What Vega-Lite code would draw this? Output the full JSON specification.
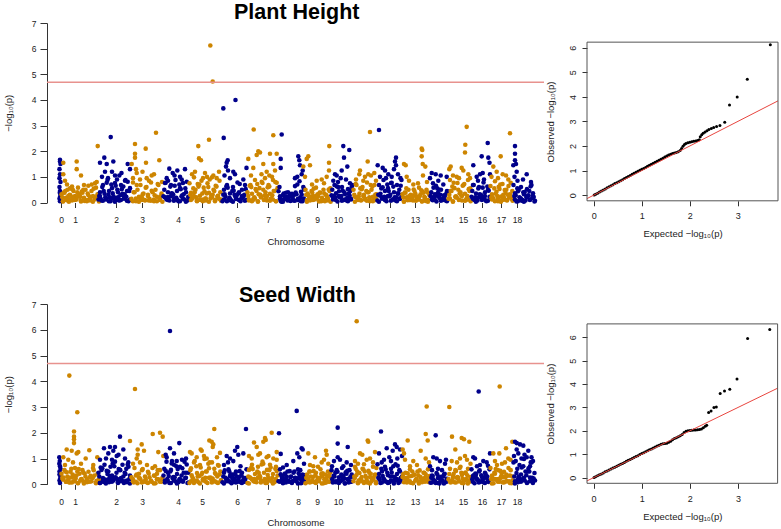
{
  "$schema": "https://vega.github.io/schema/vega-lite/v6.json",
  "padding": {"left": 3, "top": 2, "right": 2, "bottom": 0},
  "background": "white",
  "config": {
    "font": "Liberation Sans",
    "view": {"stroke": null},
    "axis": {"grid": false, "labelColor": "#222", "titleColor": "#222", "tickColor": "#333", "domainColor": "#333", "titleFontWeight": "normal", "labelOverlap": false, "labelFlush": false, "labelBound": false}
  },
  "datasets": {
    "ph": [
      {"c":0,"x":12.5,"y":0.15},{"c":0,"x":13,"y":0.05},{"c":0,"x":13.5,"y":0.3},{"c":0,"x":13,"y":0.45},{"c":0,"x":12.5,"y":0.6},{"c":0,"x":13.5,"y":0.8},{"c":0,"x":12.5,"y":0.95},{"c":0,"x":13,"y":1.1},{"c":0,"x":12.5,"y":1.3},{"c":0,"x":13.5,"y":1.5},{"c":0,"x":13,"y":1.6},{"c":0,"x":13,"y":1.67},{"c":0,"x":13.2,"y":0.22},{"c":0,"x":12.8,"y":0.38},
      {"c":1,"x":14.5,"y":0.32},{"c":1,"x":16,"y":0.04},{"c":1,"x":17.5,"y":0.38},{"c":1,"x":19,"y":0.18},{"c":1,"x":20.5,"y":0.5},{"c":1,"x":22,"y":0.1},{"c":1,"x":23.5,"y":0.28},{"c":1,"x":25,"y":0.08},{"c":1,"x":26.5,"y":0.45},{"c":1,"x":28,"y":0.25},{"c":1,"x":29.5,"y":0.12},{"c":1,"x":31,"y":0.58},{"c":1,"x":32.5,"y":0.32},{"c":1,"x":34,"y":0.04},{"c":1,"x":35.5,"y":0.38},{"c":1,"x":37,"y":0.18},{"c":1,"x":38.5,"y":0.5},{"c":1,"x":40,"y":0.1},{"c":1,"x":41.5,"y":0.28},{"c":1,"x":43,"y":0.08},{"c":1,"x":44.5,"y":0.45},{"c":1,"x":46,"y":0.25},{"c":1,"x":47.5,"y":0.12},{"c":1,"x":49,"y":0.58},{"c":1,"x":50.5,"y":0.32},{"c":1,"x":52,"y":0.04},
      {"c":1,"x":15.3,"y":0.2},{"c":1,"x":18.3,"y":0.45},{"c":1,"x":21.3,"y":0.25},{"c":1,"x":24.3,"y":0.55},{"c":1,"x":27.3,"y":0.15},{"c":1,"x":30.3,"y":0.4},{"c":1,"x":33.3,"y":0.22},{"c":1,"x":36.3,"y":0.5},
      {"c":1,"x":16.7,"y":0.39},{"c":1,"x":19.7,"y":0.09},{"c":1,"x":22.7,"y":0.3},{"c":1,"x":25.7,"y":0.51},{"c":1,"x":28.7,"y":0.13},{"c":1,"x":31.7,"y":0.24},{"c":1,"x":34.7,"y":0.43},{"c":1,"x":37.7,"y":0.06},{"c":1,"x":40.7,"y":0.35},{"c":1,"x":43.7,"y":0.21},{"c":1,"x":46.7,"y":0.54},{"c":1,"x":49.7,"y":0.18},
      {"c":1,"x":15.9,"y":0.05},{"c":1,"x":18.9,"y":0.15},{"c":1,"x":21.9,"y":0.03},{"c":1,"x":24.9,"y":0.2},{"c":1,"x":27.9,"y":0.1},{"c":1,"x":30.9,"y":0.25},{"c":1,"x":33.9,"y":0.07},{"c":1,"x":36.9,"y":0.12},{"c":1,"x":39.9,"y":0.05},{"c":1,"x":42.9,"y":0.15},{"c":1,"x":45.9,"y":0.03},{"c":1,"x":48.9,"y":0.2},{"c":1,"x":51.9,"y":0.1},
      {"c":1,"x":16.3,"y":1.55},{"c":1,"x":16.3,"y":1.1},{"c":1,"x":29.7,"y":1.6},{"c":1,"x":29.7,"y":1.3},{"c":1,"x":34,"y":1.05},{"c":1,"x":48,"y":0.75},{"c":1,"x":44.7,"y":0.7},{"c":1,"x":41.3,"y":0.65},{"c":1,"x":50.7,"y":2.2},{"c":1,"x":49.7,"y":0.8},{"c":1,"x":20,"y":0.7},{"c":1,"x":25,"y":0.62},{"c":1,"x":37,"y":0.68},{"c":1,"x":18,"y":0.85},{"c":1,"x":23,"y":0.55},
      {"c":2,"x":51.5,"y":0.12},{"c":2,"x":53,"y":0.4},{"c":2,"x":54.5,"y":0.08},{"c":2,"x":56,"y":0.68},{"c":2,"x":57.5,"y":0.34},{"c":2,"x":59,"y":0.15},{"c":2,"x":60.5,"y":0.88},{"c":2,"x":62,"y":0.45},{"c":2,"x":63.5,"y":0.05},{"c":2,"x":65,"y":0.56},{"c":2,"x":66.5,"y":0.24},{"c":2,"x":68,"y":0.76},{"c":2,"x":69.5,"y":0.12},{"c":2,"x":71,"y":0.4},{"c":2,"x":72.5,"y":0.08},{"c":2,"x":74,"y":0.68},{"c":2,"x":75.5,"y":0.34},{"c":2,"x":77,"y":0.15},{"c":2,"x":78.5,"y":0.88},{"c":2,"x":80,"y":0.45},{"c":2,"x":81.5,"y":0.05},{"c":2,"x":83,"y":0.56},
      {"c":2,"x":52.3,"y":0.25},{"c":2,"x":55.3,"y":0.6},{"c":2,"x":58.3,"y":0.2},{"c":2,"x":61.3,"y":0.3},{"c":2,"x":64.3,"y":0.7},{"c":2,"x":67.3,"y":0.18},{"c":2,"x":70.3,"y":0.5},{"c":2,"x":73.3,"y":0.28},{"c":2,"x":76.3,"y":0.62},{"c":2,"x":79.3,"y":0.22},{"c":2,"x":82.3,"y":0.45},
      {"c":2,"x":53.7,"y":0.14},{"c":2,"x":56.7,"y":0.45},{"c":2,"x":59.7,"y":0.77},{"c":2,"x":62.7,"y":0.2},{"c":2,"x":65.7,"y":0.36},{"c":2,"x":68.7,"y":0.65},{"c":2,"x":71.7,"y":0.09},{"c":2,"x":74.7,"y":0.52},{"c":2,"x":77.7,"y":0.32},{"c":2,"x":80.7,"y":0.81},
      {"c":2,"x":52.9,"y":0.25},{"c":2,"x":55.9,"y":0.07},{"c":2,"x":58.9,"y":0.12},{"c":2,"x":61.9,"y":0.05},{"c":2,"x":64.9,"y":0.15},{"c":2,"x":67.9,"y":0.03},{"c":2,"x":70.9,"y":0.2},{"c":2,"x":73.9,"y":0.1},{"c":2,"x":76.9,"y":0.25},{"c":2,"x":79.9,"y":0.07},{"c":2,"x":82.9,"y":0.12},
      {"c":2,"x":63.7,"y":2.55},{"c":2,"x":57.3,"y":1.75},{"c":2,"x":66.3,"y":1.6},{"c":2,"x":53,"y":1.55},{"c":2,"x":59.7,"y":1.5},{"c":2,"x":58,"y":1.2},{"c":2,"x":68,"y":1.05},{"c":2,"x":72.3,"y":1.05},{"c":2,"x":80.7,"y":1.5},{"c":2,"x":83,"y":1.3},{"c":2,"x":78,"y":0.85},{"c":2,"x":61,"y":0.95},{"c":2,"x":70,"y":0.9},{"c":2,"x":55,"y":1.0},{"c":2,"x":74.5,"y":1.15},{"c":2,"x":65,"y":1.2},
      {"c":3,"x":84.5,"y":0.14},{"c":3,"x":86,"y":0.78},{"c":3,"x":87.5,"y":0.4},{"c":3,"x":89,"y":0.05},{"c":3,"x":90.5,"y":0.5},{"c":3,"x":92,"y":0.22},{"c":3,"x":93.5,"y":0.68},{"c":3,"x":95,"y":0.1},{"c":3,"x":96.5,"y":0.35},{"c":3,"x":98,"y":0.08},{"c":3,"x":99.5,"y":0.6},{"c":3,"x":101,"y":0.3},{"c":3,"x":102.5,"y":0.14},{"c":3,"x":104,"y":0.78},{"c":3,"x":105.5,"y":0.4},{"c":3,"x":107,"y":0.05},{"c":3,"x":108.5,"y":0.5},{"c":3,"x":110,"y":0.22},{"c":3,"x":111.5,"y":0.68},{"c":3,"x":113,"y":0.1},{"c":3,"x":114.5,"y":0.35},
      {"c":3,"x":86.7,"y":0.4},{"c":3,"x":89.7,"y":0.68},{"c":3,"x":92.7,"y":0.18},{"c":3,"x":95.7,"y":0.32},{"c":3,"x":98.7,"y":0.58},{"c":3,"x":101.7,"y":0.08},{"c":3,"x":104.7,"y":0.46},{"c":3,"x":107.7,"y":0.28},{"c":3,"x":110.7,"y":0.72},{"c":3,"x":113.7,"y":0.24},
      {"c":3,"x":85.9,"y":0.05},{"c":3,"x":88.9,"y":0.15},{"c":3,"x":91.9,"y":0.03},{"c":3,"x":94.9,"y":0.2},{"c":3,"x":97.9,"y":0.1},{"c":3,"x":100.9,"y":0.25},{"c":3,"x":103.9,"y":0.07},{"c":3,"x":106.9,"y":0.12},{"c":3,"x":109.9,"y":0.05},{"c":3,"x":112.9,"y":0.15},{"c":3,"x":115.4,"y":0.03},
      {"c":3,"x":88,"y":2.28},{"c":3,"x":88,"y":1.9},{"c":3,"x":88,"y":1.75},{"c":3,"x":84.7,"y":1.5},{"c":3,"x":98.7,"y":2.1},{"c":3,"x":109,"y":2.72},{"c":3,"x":112.3,"y":1.65},{"c":3,"x":99,"y":1.55},{"c":3,"x":89,"y":1.3},{"c":3,"x":89.7,"y":1.15},{"c":3,"x":107,"y":1.1},{"c":3,"x":104.7,"y":1.05},{"c":3,"x":99.7,"y":0.95},{"c":3,"x":93,"y":0.9},{"c":3,"x":86,"y":0.95},{"c":3,"x":95.5,"y":1.2},{"c":3,"x":102,"y":0.85},{"c":3,"x":115,"y":0.8},
      {"c":4,"x":116.5,"y":0.24},{"c":4,"x":118,"y":0.76},{"c":4,"x":119.5,"y":0.12},{"c":4,"x":121,"y":0.4},{"c":4,"x":122.5,"y":0.08},{"c":4,"x":124,"y":0.68},{"c":4,"x":125.5,"y":0.34},{"c":4,"x":127,"y":0.15},{"c":4,"x":128.5,"y":0.88},{"c":4,"x":130,"y":0.45},{"c":4,"x":131.5,"y":0.05},{"c":4,"x":133,"y":0.56},{"c":4,"x":134.5,"y":0.24},{"c":4,"x":136,"y":0.76},{"c":4,"x":137.5,"y":0.12},{"c":4,"x":139,"y":0.4},{"c":4,"x":140.5,"y":0.08},
      {"c":4,"x":117.3,"y":0.5},{"c":4,"x":120.3,"y":0.2},{"c":4,"x":123.3,"y":0.62},{"c":4,"x":126.3,"y":0.3},{"c":4,"x":129.3,"y":0.18},{"c":4,"x":132.3,"y":0.7},{"c":4,"x":135.3,"y":0.28},{"c":4,"x":138.3,"y":0.55},{"c":4,"x":141.3,"y":0.22},
      {"c":4,"x":118.7,"y":0.77},{"c":4,"x":121.7,"y":0.2},{"c":4,"x":124.7,"y":0.36},{"c":4,"x":127.7,"y":0.65},{"c":4,"x":130.7,"y":0.09},{"c":4,"x":133.7,"y":0.52},{"c":4,"x":136.7,"y":0.32},{"c":4,"x":139.7,"y":0.81},
      {"c":4,"x":117.9,"y":0.2},{"c":4,"x":120.9,"y":0.1},{"c":4,"x":123.9,"y":0.25},{"c":4,"x":126.9,"y":0.07},{"c":4,"x":129.9,"y":0.12},{"c":4,"x":132.9,"y":0.05},{"c":4,"x":135.9,"y":0.15},{"c":4,"x":138.9,"y":0.03},{"c":4,"x":141.6,"y":0.2},
      {"c":4,"x":122.3,"y":1.32},{"c":4,"x":130.3,"y":1.25},{"c":4,"x":138,"y":1.3},{"c":4,"x":125.7,"y":1.15},{"c":4,"x":133,"y":1.0},{"c":4,"x":119.7,"y":0.95},{"c":4,"x":134.7,"y":0.9},{"c":4,"x":127.5,"y":1.05},{"c":4,"x":121,"y":0.85},
      {"c":5,"x":142.5,"y":0.75},{"c":5,"x":144,"y":0.38},{"c":5,"x":145.5,"y":0.16},{"c":5,"x":147,"y":0.98},{"c":5,"x":148.5,"y":0.5},{"c":5,"x":150,"y":0.05},{"c":5,"x":151.5,"y":0.62},{"c":5,"x":153,"y":0.26},{"c":5,"x":154.5,"y":0.85},{"c":5,"x":156,"y":0.12},{"c":5,"x":157.5,"y":0.44},{"c":5,"x":159,"y":0.08},{"c":5,"x":160.5,"y":0.75},{"c":5,"x":162,"y":0.38},{"c":5,"x":163.5,"y":0.16},{"c":5,"x":165,"y":0.98},{"c":5,"x":166.5,"y":0.5},{"c":5,"x":168,"y":0.05},{"c":5,"x":169.5,"y":0.62},{"c":5,"x":171,"y":0.26},{"c":5,"x":172.5,"y":0.85},{"c":5,"x":174,"y":0.12},
      {"c":5,"x":143.3,"y":0.3},{"c":5,"x":146.3,"y":0.55},{"c":5,"x":149.3,"y":0.2},{"c":5,"x":152.3,"y":0.7},{"c":5,"x":155.3,"y":0.35},{"c":5,"x":158.3,"y":0.15},{"c":5,"x":161.3,"y":0.6},{"c":5,"x":164.3,"y":0.28},{"c":5,"x":167.3,"y":0.45},{"c":5,"x":170.3,"y":0.22},{"c":5,"x":173.3,"y":0.4},
      {"c":5,"x":144.7,"y":0.22},{"c":5,"x":147.7,"y":0.4},{"c":5,"x":150.7,"y":0.72},{"c":5,"x":153.7,"y":0.1},{"c":5,"x":156.7,"y":0.58},{"c":5,"x":159.7,"y":0.35},{"c":5,"x":162.7,"y":0.9},{"c":5,"x":165.7,"y":0.3},{"c":5,"x":168.7,"y":0.65},{"c":5,"x":171.7,"y":0.15},
      {"c":5,"x":143.9,"y":0.1},{"c":5,"x":146.9,"y":0.25},{"c":5,"x":149.9,"y":0.07},{"c":5,"x":152.9,"y":0.12},{"c":5,"x":155.9,"y":0.05},{"c":5,"x":158.9,"y":0.15},{"c":5,"x":161.9,"y":0.03},{"c":5,"x":164.9,"y":0.2},{"c":5,"x":167.9,"y":0.1},{"c":5,"x":170.9,"y":0.25},{"c":5,"x":173.9,"y":0.07},
      {"c":5,"x":151.3,"y":2.2},{"c":5,"x":152,"y":1.72},{"c":5,"x":154,"y":1.65},{"c":5,"x":162,"y":2.45},{"c":5,"x":163.3,"y":6.12},{"c":5,"x":165.7,"y":4.72},{"c":5,"x":148,"y":1.2},{"c":5,"x":158,"y":1.15},{"c":5,"x":166.3,"y":1.05},{"c":5,"x":169.7,"y":0.95},{"c":5,"x":172,"y":1.2},{"c":5,"x":145,"y":1.1},{"c":5,"x":160,"y":1.0},{"c":5,"x":156,"y":0.95},
      {"c":6,"x":175.5,"y":0.05},{"c":6,"x":177,"y":0.5},{"c":6,"x":178.5,"y":0.22},{"c":6,"x":180,"y":0.68},{"c":6,"x":181.5,"y":0.1},{"c":6,"x":183,"y":0.35},{"c":6,"x":184.5,"y":0.08},{"c":6,"x":186,"y":0.6},{"c":6,"x":187.5,"y":0.3},{"c":6,"x":189,"y":0.14},{"c":6,"x":190.5,"y":0.78},{"c":6,"x":192,"y":0.4},{"c":6,"x":193.5,"y":0.05},{"c":6,"x":195,"y":0.5},{"c":6,"x":196.5,"y":0.22},{"c":6,"x":198,"y":0.68},{"c":6,"x":199.5,"y":0.1},
      {"c":6,"x":176.3,"y":0.3},{"c":6,"x":179.3,"y":0.62},{"c":6,"x":182.3,"y":0.18},{"c":6,"x":185.3,"y":0.45},{"c":6,"x":188.3,"y":0.25},{"c":6,"x":191.3,"y":0.35},{"c":6,"x":194.3,"y":0.15},{"c":6,"x":197.3,"y":0.3},
      {"c":6,"x":177.7,"y":0.32},{"c":6,"x":180.7,"y":0.58},{"c":6,"x":183.7,"y":0.08},{"c":6,"x":186.7,"y":0.46},{"c":6,"x":189.7,"y":0.28},{"c":6,"x":192.7,"y":0.72},{"c":6,"x":195.7,"y":0.24},{"c":6,"x":198.7,"y":0.52},
      {"c":6,"x":176.9,"y":0.12},{"c":6,"x":179.9,"y":0.05},{"c":6,"x":182.9,"y":0.15},{"c":6,"x":185.9,"y":0.03},{"c":6,"x":188.9,"y":0.2},{"c":6,"x":191.9,"y":0.1},{"c":6,"x":194.9,"y":0.25},{"c":6,"x":197.9,"y":0.07},
      {"c":6,"x":176.3,"y":3.67},{"c":6,"x":176.7,"y":2.52},{"c":6,"x":188.5,"y":4.0},{"c":6,"x":180.7,"y":1.65},{"c":6,"x":179.7,"y":1.55},{"c":6,"x":179,"y":1.4},{"c":6,"x":186.3,"y":1.2},{"c":6,"x":188,"y":1.1},{"c":6,"x":196.3,"y":0.9},{"c":6,"x":183,"y":0.95},{"c":6,"x":199.5,"y":1.35},{"c":6,"x":181,"y":1.25},{"c":6,"x":177.5,"y":1.05},
      {"c":7,"x":200.5,"y":0.4},{"c":7,"x":202,"y":0.08},{"c":7,"x":203.5,"y":0.68},{"c":7,"x":205,"y":0.34},{"c":7,"x":206.5,"y":0.15},{"c":7,"x":208,"y":0.88},{"c":7,"x":209.5,"y":0.45},{"c":7,"x":211,"y":0.05},{"c":7,"x":212.5,"y":0.56},{"c":7,"x":214,"y":0.24},{"c":7,"x":215.5,"y":0.76},{"c":7,"x":217,"y":0.12},{"c":7,"x":218.5,"y":0.4},{"c":7,"x":220,"y":0.08},{"c":7,"x":221.5,"y":0.68},{"c":7,"x":223,"y":0.34},{"c":7,"x":224.5,"y":0.15},{"c":7,"x":226,"y":0.88},{"c":7,"x":227.5,"y":0.45},{"c":7,"x":229,"y":0.05},{"c":7,"x":230.5,"y":0.56},
      {"c":7,"x":201.3,"y":0.25},{"c":7,"x":204.3,"y":0.6},{"c":7,"x":207.3,"y":0.2},{"c":7,"x":210.3,"y":0.72},{"c":7,"x":213.3,"y":0.3},{"c":7,"x":216.3,"y":0.5},{"c":7,"x":219.3,"y":0.18},{"c":7,"x":222.3,"y":0.62},{"c":7,"x":225.3,"y":0.28},{"c":7,"x":228.3,"y":0.8},
      {"c":7,"x":202.7,"y":0.65},{"c":7,"x":205.7,"y":0.09},{"c":7,"x":208.7,"y":0.52},{"c":7,"x":211.7,"y":0.32},{"c":7,"x":214.7,"y":0.81},{"c":7,"x":217.7,"y":0.27},{"c":7,"x":220.7,"y":0.59},{"c":7,"x":223.7,"y":0.14},{"c":7,"x":226.7,"y":0.45},{"c":7,"x":229.7,"y":0.77},
      {"c":7,"x":201.9,"y":0.12},{"c":7,"x":204.9,"y":0.05},{"c":7,"x":207.9,"y":0.15},{"c":7,"x":210.9,"y":0.03},{"c":7,"x":213.9,"y":0.2},{"c":7,"x":216.9,"y":0.1},{"c":7,"x":219.9,"y":0.25},{"c":7,"x":222.9,"y":0.07},{"c":7,"x":225.9,"y":0.12},{"c":7,"x":228.9,"y":0.05},
      {"c":7,"x":201.3,"y":1.7},{"c":7,"x":206.3,"y":1.35},{"c":7,"x":206.7,"y":2.85},{"c":7,"x":209.7,"y":1.85},{"c":7,"x":211.3,"y":2.0},{"c":7,"x":213,"y":1.95},{"c":7,"x":216.3,"y":1.5},{"c":7,"x":219.7,"y":1.2},{"c":7,"x":222.3,"y":1.05},{"c":7,"x":223,"y":1.9},{"c":7,"x":226.3,"y":2.62},{"c":7,"x":226.3,"y":1.5},{"c":7,"x":228,"y":1.25},{"c":7,"x":229.7,"y":1.9},{"c":7,"x":204,"y":1.05},{"c":7,"x":214.5,"y":1.1},{"c":7,"x":218,"y":0.95},{"c":7,"x":225,"y":1.0},
      {"c":8,"x":231.5,"y":0.44},{"c":8,"x":233,"y":0.24},{"c":8,"x":234.5,"y":0.03},{"c":8,"x":236,"y":0.29},{"c":8,"x":237.5,"y":0.14},{"c":8,"x":239,"y":0.38},{"c":8,"x":240.5,"y":0.08},{"c":8,"x":242,"y":0.21},{"c":8,"x":243.5,"y":0.06},{"c":8,"x":245,"y":0.34},{"c":8,"x":246.5,"y":0.08},{"c":8,"x":248,"y":0.64},{"c":8,"x":249.5,"y":0.32},{"c":8,"x":251,"y":0.14},{"c":8,"x":252.5,"y":0.83},{"c":8,"x":254,"y":0.42},{"c":8,"x":255.5,"y":0.05},{"c":8,"x":257,"y":0.53},
      {"c":8,"x":247.3,"y":0.3},{"c":8,"x":250.3,"y":0.7},{"c":8,"x":253.3,"y":0.2},{"c":8,"x":256.3,"y":0.6},{"c":8,"x":238,"y":0.15},{"c":8,"x":241,"y":0.4},{"c":8,"x":235,"y":0.12},
      {"c":8,"x":233.7,"y":0.06},{"c":8,"x":236.7,"y":0.35},{"c":8,"x":239.7,"y":0.21},{"c":8,"x":242.7,"y":0.34},{"c":8,"x":245.7,"y":0.18},{"c":8,"x":248.7,"y":0.39},{"c":8,"x":251.7,"y":0.09},{"c":8,"x":254.7,"y":0.3},{"c":8,"x":257.2,"y":0.51},
      {"c":8,"x":232.9,"y":0.15},{"c":8,"x":235.9,"y":0.03},{"c":8,"x":238.9,"y":0.2},{"c":8,"x":241.9,"y":0.1},{"c":8,"x":244.9,"y":0.25},{"c":8,"x":247.9,"y":0.07},{"c":8,"x":250.9,"y":0.12},{"c":8,"x":253.9,"y":0.05},{"c":8,"x":256.9,"y":0.15},
      {"c":8,"x":234.7,"y":2.65},{"c":8,"x":233.7,"y":1.7},{"c":8,"x":233.7,"y":1.35},{"c":8,"x":251.3,"y":1.8},{"c":8,"x":252.3,"y":1.65},{"c":8,"x":253,"y":1.45},{"c":8,"x":255.7,"y":1.25},{"c":8,"x":254.7,"y":1.1},{"c":8,"x":250.3,"y":1.0},{"c":8,"x":248,"y":0.95},{"c":8,"x":232.5,"y":0.6},
      {"c":9,"x":258.5,"y":0.5},{"c":9,"x":260,"y":0.1},{"c":9,"x":261.5,"y":0.28},{"c":9,"x":263,"y":0.08},{"c":9,"x":264.5,"y":0.45},{"c":9,"x":266,"y":0.25},{"c":9,"x":267.5,"y":0.12},{"c":9,"x":269,"y":0.58},{"c":9,"x":270.5,"y":0.32},{"c":9,"x":272,"y":0.04},{"c":9,"x":273.5,"y":0.38},{"c":9,"x":275,"y":0.18},{"c":9,"x":276.5,"y":0.5},{"c":9,"x":278,"y":0.1},{"c":9,"x":279.5,"y":0.28},{"c":9,"x":281,"y":0.08},{"c":9,"x":282.5,"y":0.45},
      {"c":9,"x":259.3,"y":0.3},{"c":9,"x":262.3,"y":0.2},{"c":9,"x":265.3,"y":0.38},{"c":9,"x":268.3,"y":0.15},{"c":9,"x":271.3,"y":0.25},{"c":9,"x":274.3,"y":0.05},{"c":9,"x":277.3,"y":0.35},{"c":9,"x":280.3,"y":0.2},{"c":9,"x":283.3,"y":0.55},
      {"c":9,"x":260.7,"y":0.35},{"c":9,"x":263.7,"y":0.21},{"c":9,"x":266.7,"y":0.54},{"c":9,"x":269.7,"y":0.18},{"c":9,"x":272.7,"y":0.39},{"c":9,"x":275.7,"y":0.09},{"c":9,"x":278.7,"y":0.3},{"c":9,"x":281.7,"y":0.51},
      {"c":9,"x":259.9,"y":0.03},{"c":9,"x":262.9,"y":0.2},{"c":9,"x":265.9,"y":0.1},{"c":9,"x":268.9,"y":0.25},{"c":9,"x":271.9,"y":0.07},{"c":9,"x":274.9,"y":0.12},{"c":9,"x":277.9,"y":0.05},{"c":9,"x":280.9,"y":0.15},{"c":9,"x":283.6,"y":0.03},
      {"c":9,"x":261.3,"y":1.8},{"c":9,"x":259.7,"y":1.7},{"c":9,"x":263,"y":1.45},{"c":9,"x":256.3,"y":1.4},{"c":9,"x":258,"y":1.0},{"c":9,"x":274.7,"y":0.9},{"c":9,"x":269.7,"y":0.85},{"c":9,"x":282.3,"y":2.2},{"c":9,"x":282,"y":1.55},{"c":9,"x":282,"y":1.25},{"c":9,"x":279.7,"y":1.0},{"c":9,"x":265,"y":0.7},{"c":9,"x":277,"y":0.75},
      {"c":10,"x":284.5,"y":0.28},{"c":10,"x":286,"y":0.12},{"c":10,"x":287.5,"y":0.68},{"c":10,"x":289,"y":0.36},{"c":10,"x":290.5,"y":0.04},{"c":10,"x":292,"y":0.44},{"c":10,"x":293.5,"y":0.2},{"c":10,"x":295,"y":0.6},{"c":10,"x":296.5,"y":0.1},{"c":10,"x":298,"y":0.32},{"c":10,"x":299.5,"y":0.08},{"c":10,"x":301,"y":0.52},{"c":10,"x":302.5,"y":0.28},{"c":10,"x":304,"y":0.12},{"c":10,"x":305.5,"y":0.68},
      {"c":10,"x":285.3,"y":0.5},{"c":10,"x":288.3,"y":0.2},{"c":10,"x":291.3,"y":0.6},{"c":10,"x":294.3,"y":0.25},{"c":10,"x":297.3,"y":0.4},{"c":10,"x":300.3,"y":0.18},{"c":10,"x":303.3,"y":0.45},
      {"c":10,"x":286.7,"y":0.25},{"c":10,"x":289.7,"y":0.63},{"c":10,"x":292.7,"y":0.21},{"c":10,"x":295.7,"y":0.46},{"c":10,"x":298.7,"y":0.11},{"c":10,"x":301.7,"y":0.35},{"c":10,"x":304.7,"y":0.6},
      {"c":10,"x":285.9,"y":0.2},{"c":10,"x":288.9,"y":0.1},{"c":10,"x":291.9,"y":0.25},{"c":10,"x":294.9,"y":0.07},{"c":10,"x":297.9,"y":0.12},{"c":10,"x":300.9,"y":0.05},{"c":10,"x":303.9,"y":0.15},
      {"c":10,"x":296.3,"y":2.2},{"c":10,"x":297,"y":1.75},{"c":10,"x":302.3,"y":2.05},{"c":10,"x":300.3,"y":1.4},{"c":10,"x":294.7,"y":1.25},{"c":10,"x":288,"y":1.1},{"c":10,"x":289.7,"y":1.05},{"c":10,"x":293.7,"y":0.95},{"c":10,"x":286.3,"y":0.85},{"c":10,"x":303,"y":0.75},{"c":10,"x":291,"y":0.8},{"c":10,"x":299,"y":0.9},
      {"c":11,"x":306.5,"y":0.5},{"c":11,"x":308,"y":0.22},{"c":11,"x":309.5,"y":0.68},{"c":11,"x":311,"y":0.1},{"c":11,"x":312.5,"y":0.35},{"c":11,"x":314,"y":0.08},{"c":11,"x":315.5,"y":0.6},{"c":11,"x":317,"y":0.3},{"c":11,"x":318.5,"y":0.14},{"c":11,"x":320,"y":0.78},{"c":11,"x":321.5,"y":0.4},{"c":11,"x":323,"y":0.05},{"c":11,"x":324.5,"y":0.5},{"c":11,"x":326,"y":0.22},{"c":11,"x":327.5,"y":0.68},{"c":11,"x":329,"y":0.1},
      {"c":11,"x":307.3,"y":0.3},{"c":11,"x":310.3,"y":0.15},{"c":11,"x":313.3,"y":0.55},{"c":11,"x":316.3,"y":0.25},{"c":11,"x":319.3,"y":0.45},{"c":11,"x":322.3,"y":0.2},{"c":11,"x":325.3,"y":0.62},{"c":11,"x":328.3,"y":0.3},
      {"c":11,"x":308.7,"y":0.72},{"c":11,"x":311.7,"y":0.24},{"c":11,"x":314.7,"y":0.52},{"c":11,"x":317.7,"y":0.12},{"c":11,"x":320.7,"y":0.4},{"c":11,"x":323.7,"y":0.68},{"c":11,"x":326.7,"y":0.18},{"c":11,"x":329.4,"y":0.32},
      {"c":11,"x":307.9,"y":0.03},{"c":11,"x":310.9,"y":0.2},{"c":11,"x":313.9,"y":0.1},{"c":11,"x":316.9,"y":0.25},{"c":11,"x":319.9,"y":0.07},{"c":11,"x":322.9,"y":0.12},{"c":11,"x":325.9,"y":0.05},{"c":11,"x":328.9,"y":0.15},
      {"c":11,"x":323,"y":2.75},{"c":11,"x":320.7,"y":1.6},{"c":11,"x":313,"y":1.25},{"c":11,"x":312.3,"y":1.1},{"c":11,"x":327.3,"y":1.15},{"c":11,"x":321.3,"y":1.1},{"c":11,"x":324,"y":1.05},{"c":11,"x":316.3,"y":0.85},{"c":11,"x":309,"y":0.9},{"c":11,"x":318,"y":1.0},{"c":11,"x":329,"y":0.85},
      {"c":12,"x":330.5,"y":0.08},{"c":12,"x":332,"y":0.68},{"c":12,"x":333.5,"y":0.34},{"c":12,"x":335,"y":0.15},{"c":12,"x":336.5,"y":0.88},{"c":12,"x":338,"y":0.45},{"c":12,"x":339.5,"y":0.05},{"c":12,"x":341,"y":0.56},{"c":12,"x":342.5,"y":0.24},{"c":12,"x":344,"y":0.76},{"c":12,"x":345.5,"y":0.12},{"c":12,"x":347,"y":0.4},{"c":12,"x":348.5,"y":0.08},{"c":12,"x":350,"y":0.68},{"c":12,"x":351.5,"y":0.34},{"c":12,"x":353,"y":0.15},{"c":12,"x":354.5,"y":0.88},
      {"c":12,"x":331.3,"y":0.3},{"c":12,"x":334.3,"y":0.55},{"c":12,"x":337.3,"y":0.22},{"c":12,"x":340.3,"y":0.7},{"c":12,"x":343.3,"y":0.3},{"c":12,"x":346.3,"y":0.62},{"c":12,"x":349.3,"y":0.2},{"c":12,"x":352.3,"y":0.5},{"c":12,"x":355,"y":0.3},
      {"c":12,"x":332.7,"y":0.27},{"c":12,"x":335.7,"y":0.59},{"c":12,"x":338.7,"y":0.14},{"c":12,"x":341.7,"y":0.45},{"c":12,"x":344.7,"y":0.77},{"c":12,"x":347.7,"y":0.2},{"c":12,"x":350.7,"y":0.36},{"c":12,"x":353.7,"y":0.65},
      {"c":12,"x":331.9,"y":0.03},{"c":12,"x":334.9,"y":0.2},{"c":12,"x":337.9,"y":0.1},{"c":12,"x":340.9,"y":0.25},{"c":12,"x":343.9,"y":0.07},{"c":12,"x":346.9,"y":0.12},{"c":12,"x":349.9,"y":0.05},{"c":12,"x":352.9,"y":0.15},
      {"c":12,"x":332,"y":2.83},{"c":12,"x":330.7,"y":1.45},{"c":12,"x":349,"y":1.75},{"c":12,"x":348,"y":1.6},{"c":12,"x":349,"y":1.45},{"c":12,"x":347,"y":1.3},{"c":12,"x":335.7,"y":1.35},{"c":12,"x":338,"y":1.25},{"c":12,"x":341.3,"y":1.1},{"c":12,"x":344.7,"y":1.0},{"c":12,"x":333,"y":1.0},{"c":12,"x":351,"y":1.1},{"c":12,"x":353.5,"y":0.95},{"c":12,"x":339,"y":0.95},
      {"c":13,"x":355.5,"y":0.32},{"c":13,"x":357,"y":0.04},{"c":13,"x":358.5,"y":0.38},{"c":13,"x":360,"y":0.18},{"c":13,"x":361.5,"y":0.5},{"c":13,"x":363,"y":0.1},{"c":13,"x":364.5,"y":0.28},{"c":13,"x":366,"y":0.08},{"c":13,"x":367.5,"y":0.45},{"c":13,"x":369,"y":0.25},{"c":13,"x":370.5,"y":0.12},{"c":13,"x":372,"y":0.58},{"c":13,"x":373.5,"y":0.32},{"c":13,"x":375,"y":0.04},{"c":13,"x":376.5,"y":0.38},{"c":13,"x":378,"y":0.18},{"c":13,"x":379.5,"y":0.5},{"c":13,"x":381,"y":0.1},{"c":13,"x":382.5,"y":0.28},
      {"c":13,"x":356.3,"y":0.2},{"c":13,"x":359.3,"y":0.55},{"c":13,"x":362.3,"y":0.25},{"c":13,"x":365.3,"y":0.15},{"c":13,"x":368.3,"y":0.35},{"c":13,"x":371.3,"y":0.2},{"c":13,"x":374.3,"y":0.48},{"c":13,"x":377.3,"y":0.22},{"c":13,"x":380.3,"y":0.4},
      {"c":13,"x":357.7,"y":0.39},{"c":13,"x":360.7,"y":0.09},{"c":13,"x":363.7,"y":0.3},{"c":13,"x":366.7,"y":0.51},{"c":13,"x":369.7,"y":0.13},{"c":13,"x":372.7,"y":0.24},{"c":13,"x":375.7,"y":0.43},{"c":13,"x":378.7,"y":0.06},{"c":13,"x":381.7,"y":0.35},
      {"c":13,"x":356.9,"y":0.03},{"c":13,"x":359.9,"y":0.2},{"c":13,"x":362.9,"y":0.1},{"c":13,"x":365.9,"y":0.25},{"c":13,"x":368.9,"y":0.07},{"c":13,"x":371.9,"y":0.12},{"c":13,"x":374.9,"y":0.05},{"c":13,"x":377.9,"y":0.15},{"c":13,"x":380.9,"y":0.03},
      {"c":13,"x":357,"y":1.5},{"c":13,"x":358.7,"y":1.45},{"c":13,"x":374.7,"y":2.1},{"c":13,"x":375.3,"y":2.05},{"c":13,"x":374.7,"y":1.8},{"c":13,"x":375.7,"y":1.5},{"c":13,"x":378.3,"y":1.4},{"c":13,"x":359.7,"y":1.0},{"c":13,"x":366.3,"y":0.7},{"c":13,"x":362,"y":0.85},{"c":13,"x":371,"y":0.75},{"c":13,"x":376,"y":1.05},{"c":13,"x":380,"y":0.8},
      {"c":14,"x":383.5,"y":0.25},{"c":14,"x":385,"y":0.12},{"c":14,"x":386.5,"y":0.58},{"c":14,"x":388,"y":0.32},{"c":14,"x":389.5,"y":0.04},{"c":14,"x":391,"y":0.38},{"c":14,"x":392.5,"y":0.18},{"c":14,"x":394,"y":0.5},{"c":14,"x":395.5,"y":0.1},{"c":14,"x":397,"y":0.28},{"c":14,"x":398.5,"y":0.08},{"c":14,"x":400,"y":0.45},
      {"c":14,"x":384.3,"y":0.4},{"c":14,"x":387.3,"y":0.2},{"c":14,"x":390.3,"y":0.55},{"c":14,"x":393.3,"y":0.3},{"c":14,"x":396.3,"y":0.15},{"c":14,"x":399.3,"y":0.35},
      {"c":14,"x":385.7,"y":0.09},{"c":14,"x":388.7,"y":0.3},{"c":14,"x":391.7,"y":0.51},{"c":14,"x":394.7,"y":0.13},{"c":14,"x":397.7,"y":0.24},{"c":14,"x":400.4,"y":0.43},
      {"c":14,"x":384.9,"y":0.2},{"c":14,"x":387.9,"y":0.1},{"c":14,"x":390.9,"y":0.25},{"c":14,"x":393.9,"y":0.07},{"c":14,"x":396.9,"y":0.12},{"c":14,"x":399.9,"y":0.05},
      {"c":14,"x":384.7,"y":1.15},{"c":14,"x":388.7,"y":1.1},{"c":14,"x":393.7,"y":1.05},{"c":14,"x":383,"y":0.95},{"c":14,"x":391.3,"y":0.85},{"c":14,"x":396.3,"y":0.7},{"c":14,"x":399.7,"y":1.0},{"c":14,"x":386,"y":0.75},{"c":14,"x":389,"y":0.65},
      {"c":15,"x":401.5,"y":0.15},{"c":15,"x":403,"y":0.88},{"c":15,"x":404.5,"y":0.45},{"c":15,"x":406,"y":0.05},{"c":15,"x":407.5,"y":0.56},{"c":15,"x":409,"y":0.24},{"c":15,"x":410.5,"y":0.76},{"c":15,"x":412,"y":0.12},{"c":15,"x":413.5,"y":0.4},{"c":15,"x":415,"y":0.08},{"c":15,"x":416.5,"y":0.68},{"c":15,"x":418,"y":0.34},{"c":15,"x":419.5,"y":0.15},{"c":15,"x":421,"y":0.88},{"c":15,"x":422.5,"y":0.45},
      {"c":15,"x":402.3,"y":0.3},{"c":15,"x":405.3,"y":0.62},{"c":15,"x":408.3,"y":0.22},{"c":15,"x":411.3,"y":0.5},{"c":15,"x":414.3,"y":0.28},{"c":15,"x":417.3,"y":0.72},{"c":15,"x":420.3,"y":0.25},{"c":15,"x":423.3,"y":0.55},
      {"c":15,"x":403.7,"y":0.45},{"c":15,"x":406.7,"y":0.77},{"c":15,"x":409.7,"y":0.2},{"c":15,"x":412.7,"y":0.36},{"c":15,"x":415.7,"y":0.65},{"c":15,"x":418.7,"y":0.09},{"c":15,"x":421.7,"y":0.52},
      {"c":15,"x":402.9,"y":0.15},{"c":15,"x":405.9,"y":0.03},{"c":15,"x":408.9,"y":0.2},{"c":15,"x":411.9,"y":0.1},{"c":15,"x":414.9,"y":0.25},{"c":15,"x":417.9,"y":0.07},{"c":15,"x":420.9,"y":0.12},{"c":15,"x":423.6,"y":0.05},
      {"c":15,"x":419.7,"y":2.95},{"c":15,"x":418.3,"y":2.25},{"c":15,"x":418,"y":1.95},{"c":15,"x":403.7,"y":1.4},{"c":15,"x":402.3,"y":1.3},{"c":15,"x":414.7,"y":1.35},{"c":15,"x":416.3,"y":1.25},{"c":15,"x":409.7,"y":1.0},{"c":15,"x":421.3,"y":1.1},{"c":15,"x":406,"y":1.05},{"c":15,"x":412,"y":0.95},{"c":15,"x":423,"y":0.95},
      {"c":16,"x":424.5,"y":0.22},{"c":16,"x":426,"y":0.68},{"c":16,"x":427.5,"y":0.1},{"c":16,"x":429,"y":0.35},{"c":16,"x":430.5,"y":0.08},{"c":16,"x":432,"y":0.6},{"c":16,"x":433.5,"y":0.3},{"c":16,"x":435,"y":0.14},{"c":16,"x":436.5,"y":0.78},{"c":16,"x":438,"y":0.4},{"c":16,"x":439.5,"y":0.05},{"c":16,"x":441,"y":0.5},{"c":16,"x":442.5,"y":0.22},
      {"c":16,"x":425.3,"y":0.45},{"c":16,"x":428.3,"y":0.2},{"c":16,"x":431.3,"y":0.55},{"c":16,"x":434.3,"y":0.28},{"c":16,"x":437.3,"y":0.15},{"c":16,"x":440.3,"y":0.62},
      {"c":16,"x":426.7,"y":0.68},{"c":16,"x":429.7,"y":0.18},{"c":16,"x":432.7,"y":0.32},{"c":16,"x":435.7,"y":0.58},{"c":16,"x":438.7,"y":0.08},{"c":16,"x":441.7,"y":0.46},
      {"c":16,"x":425.9,"y":0.15},{"c":16,"x":428.9,"y":0.03},{"c":16,"x":431.9,"y":0.2},{"c":16,"x":434.9,"y":0.1},{"c":16,"x":437.9,"y":0.25},{"c":16,"x":440.9,"y":0.07},
      {"c":16,"x":440.7,"y":2.32},{"c":16,"x":441.3,"y":1.75},{"c":16,"x":442.5,"y":1.55},{"c":16,"x":434.7,"y":1.8},{"c":16,"x":426.3,"y":1.45},{"c":16,"x":435.7,"y":1.15},{"c":16,"x":433,"y":1.1},{"c":16,"x":443,"y":1.1},{"c":16,"x":429.7,"y":1.0},{"c":16,"x":437,"y":0.9},{"c":16,"x":431,"y":0.85},
      {"c":17,"x":443.5,"y":0.64},{"c":17,"x":445,"y":0.32},{"c":17,"x":446.5,"y":0.14},{"c":17,"x":448,"y":0.83},{"c":17,"x":449.5,"y":0.42},{"c":17,"x":451,"y":0.05},{"c":17,"x":452.5,"y":0.53},{"c":17,"x":454,"y":0.23},{"c":17,"x":455.5,"y":0.72},{"c":17,"x":457,"y":0.11},{"c":17,"x":458.5,"y":0.37},{"c":17,"x":460,"y":0.08},{"c":17,"x":461.5,"y":0.64},{"c":17,"x":463,"y":0.32},{"c":17,"x":464.5,"y":0.14},
      {"c":17,"x":444.3,"y":0.2},{"c":17,"x":447.3,"y":0.55},{"c":17,"x":450.3,"y":0.25},{"c":17,"x":453.3,"y":0.7},{"c":17,"x":456.3,"y":0.3},{"c":17,"x":459.3,"y":0.5},{"c":17,"x":462.3,"y":0.2},{"c":17,"x":465.3,"y":0.45},
      {"c":17,"x":445.7,"y":0.19},{"c":17,"x":448.7,"y":0.34},{"c":17,"x":451.7,"y":0.61},{"c":17,"x":454.7,"y":0.09},{"c":17,"x":457.7,"y":0.49},{"c":17,"x":460.7,"y":0.3},{"c":17,"x":463.7,"y":0.77},
      {"c":17,"x":444.9,"y":0.12},{"c":17,"x":447.9,"y":0.05},{"c":17,"x":450.9,"y":0.15},{"c":17,"x":453.9,"y":0.03},{"c":17,"x":456.9,"y":0.2},{"c":17,"x":459.9,"y":0.1},{"c":17,"x":462.9,"y":0.25},{"c":17,"x":465.6,"y":0.07},
      {"c":17,"x":453.7,"y":1.8},{"c":17,"x":446.3,"y":1.4},{"c":17,"x":449.7,"y":1.2},{"c":17,"x":455.7,"y":1.1},{"c":17,"x":459,"y":1.05},{"c":17,"x":461.3,"y":0.9},{"c":17,"x":463,"y":2.7},{"c":17,"x":451,"y":0.95},{"c":17,"x":444.5,"y":1.0},
      {"c":18,"x":466.5,"y":0.68},{"c":18,"x":468,"y":0.36},{"c":18,"x":469.5,"y":0.04},{"c":18,"x":471,"y":0.44},{"c":18,"x":472.5,"y":0.2},{"c":18,"x":474,"y":0.6},{"c":18,"x":475.5,"y":0.1},{"c":18,"x":477,"y":0.32},{"c":18,"x":478.5,"y":0.08},{"c":18,"x":480,"y":0.52},{"c":18,"x":481.5,"y":0.28},{"c":18,"x":483,"y":0.12},{"c":18,"x":484.5,"y":0.68},{"c":18,"x":486,"y":0.36},{"c":18,"x":487.5,"y":0.04},
      {"c":18,"x":467.3,"y":0.25},{"c":18,"x":470.3,"y":0.55},{"c":18,"x":473.3,"y":0.15},{"c":18,"x":476.3,"y":0.4},{"c":18,"x":479.3,"y":0.22},{"c":18,"x":482.3,"y":0.45},{"c":18,"x":485.3,"y":0.18},
      {"c":18,"x":468.7,"y":0.28},{"c":18,"x":471.7,"y":0.5},{"c":18,"x":474.7,"y":0.07},{"c":18,"x":477.7,"y":0.41},{"c":18,"x":480.7,"y":0.25},{"c":18,"x":483.7,"y":0.63},{"c":18,"x":486.7,"y":0.21},
      {"c":18,"x":467.9,"y":0.12},{"c":18,"x":470.9,"y":0.05},{"c":18,"x":473.9,"y":0.15},{"c":18,"x":476.9,"y":0.03},{"c":18,"x":479.9,"y":0.2},{"c":18,"x":482.9,"y":0.1},{"c":18,"x":485.9,"y":0.25},{"c":18,"x":488,"y":0.07},
      {"c":18,"x":468,"y":2.2},{"c":18,"x":468,"y":1.9},{"c":18,"x":468,"y":1.65},{"c":18,"x":469,"y":1.5},{"c":18,"x":466.3,"y":1.45},{"c":18,"x":469.7,"y":1.2},{"c":18,"x":479.7,"y":1.1},{"c":18,"x":476,"y":0.9},{"c":18,"x":467.5,"y":1.0},{"c":18,"x":470.5,"y":0.85},{"c":18,"x":484,"y":0.8}
    ],
    "sw": [
      {"c":0,"x":12.5,"y":0.15},{"c":0,"x":13,"y":0.05},{"c":0,"x":13.5,"y":0.3},{"c":0,"x":12.5,"y":0.38},{"c":0,"x":12.5,"y":0.5},{"c":0,"x":13.5,"y":0.6},{"c":0,"x":13,"y":0.7},{"c":0,"x":12.3,"y":0.8},{"c":0,"x":12.3,"y":1.05},{"c":0,"x":13.2,"y":0.22},{"c":0,"x":12.8,"y":0.9},
      {"c":1,"x":14.5,"y":0.41},{"c":1,"x":16,"y":0.19},{"c":1,"x":17.5,"y":0.55},{"c":1,"x":19,"y":0.1},{"c":1,"x":20.5,"y":0.3},{"c":1,"x":22,"y":0.08},{"c":1,"x":23.5,"y":0.49},{"c":1,"x":25,"y":0.27},{"c":1,"x":26.5,"y":0.12},{"c":1,"x":28,"y":0.63},{"c":1,"x":29.5,"y":0.34},{"c":1,"x":31,"y":0.04},{"c":1,"x":32.5,"y":0.41},{"c":1,"x":34,"y":0.19},{"c":1,"x":35.5,"y":0.55},{"c":1,"x":37,"y":0.1},{"c":1,"x":38.5,"y":0.3},{"c":1,"x":40,"y":0.08},{"c":1,"x":41.5,"y":0.49},{"c":1,"x":43,"y":0.27},{"c":1,"x":44.5,"y":0.12},{"c":1,"x":46,"y":0.63},{"c":1,"x":47.5,"y":0.34},{"c":1,"x":49,"y":0.04},{"c":1,"x":50.5,"y":0.41},{"c":1,"x":52,"y":0.19},
      {"c":1,"x":15.3,"y":0.25},{"c":1,"x":18.3,"y":0.5},{"c":1,"x":21.3,"y":0.2},{"c":1,"x":24.3,"y":0.6},{"c":1,"x":27.3,"y":0.3},{"c":1,"x":30.3,"y":0.5},{"c":1,"x":33.3,"y":0.15},{"c":1,"x":36.3,"y":0.45},
      {"c":1,"x":16.7,"y":0.26},{"c":1,"x":19.7,"y":0.47},{"c":1,"x":22.7,"y":0.07},{"c":1,"x":25.7,"y":0.38},{"c":1,"x":28.7,"y":0.23},{"c":1,"x":31.7,"y":0.59},{"c":1,"x":34.7,"y":0.2},{"c":1,"x":37.7,"y":0.42},{"c":1,"x":40.7,"y":0.1},{"c":1,"x":43.7,"y":0.33},{"c":1,"x":46.7,"y":0.55},{"c":1,"x":49.7,"y":0.14},
      {"c":1,"x":15.9,"y":0.2},{"c":1,"x":18.9,"y":0.1},{"c":1,"x":21.9,"y":0.25},{"c":1,"x":24.9,"y":0.07},{"c":1,"x":27.9,"y":0.12},{"c":1,"x":30.9,"y":0.05},{"c":1,"x":33.9,"y":0.15},{"c":1,"x":36.9,"y":0.03},{"c":1,"x":39.9,"y":0.2},{"c":1,"x":42.9,"y":0.1},{"c":1,"x":45.9,"y":0.25},{"c":1,"x":48.9,"y":0.07},{"c":1,"x":51.9,"y":0.12},
      {"c":1,"x":22.3,"y":4.22},{"c":1,"x":30.3,"y":2.8},{"c":1,"x":27,"y":2.05},{"c":1,"x":27,"y":1.85},{"c":1,"x":27,"y":1.75},{"c":1,"x":27,"y":1.6},{"c":1,"x":19.7,"y":1.35},{"c":1,"x":24.7,"y":1.3},{"c":1,"x":31.3,"y":1.25},{"c":1,"x":29.7,"y":1.2},{"c":1,"x":16.3,"y":1.05},{"c":1,"x":21.3,"y":0.95},{"c":1,"x":42.3,"y":1.32},{"c":1,"x":50.3,"y":1.05},{"c":1,"x":38.7,"y":1.0},{"c":1,"x":46.3,"y":0.75},{"c":1,"x":26,"y":0.85},{"c":1,"x":34,"y":0.8},{"c":1,"x":18,"y":0.75},
      {"c":2,"x":51.5,"y":0.45},{"c":2,"x":53,"y":0.05},{"c":2,"x":54.5,"y":0.56},{"c":2,"x":56,"y":0.24},{"c":2,"x":57.5,"y":0.76},{"c":2,"x":59,"y":0.12},{"c":2,"x":60.5,"y":0.4},{"c":2,"x":62,"y":0.08},{"c":2,"x":63.5,"y":0.68},{"c":2,"x":65,"y":0.34},{"c":2,"x":66.5,"y":0.15},{"c":2,"x":68,"y":0.88},{"c":2,"x":69.5,"y":0.45},{"c":2,"x":71,"y":0.05},{"c":2,"x":72.5,"y":0.56},{"c":2,"x":74,"y":0.24},{"c":2,"x":75.5,"y":0.76},{"c":2,"x":77,"y":0.12},{"c":2,"x":78.5,"y":0.4},{"c":2,"x":80,"y":0.08},{"c":2,"x":81.5,"y":0.68},{"c":2,"x":83,"y":0.34},
      {"c":2,"x":52.3,"y":0.3},{"c":2,"x":55.3,"y":0.62},{"c":2,"x":58.3,"y":0.18},{"c":2,"x":61.3,"y":0.5},{"c":2,"x":64.3,"y":0.25},{"c":2,"x":67.3,"y":0.7},{"c":2,"x":70.3,"y":0.2},{"c":2,"x":73.3,"y":0.55},{"c":2,"x":76.3,"y":0.3},{"c":2,"x":79.3,"y":0.6},{"c":2,"x":82.3,"y":0.2},
      {"c":2,"x":53.7,"y":0.65},{"c":2,"x":56.7,"y":0.09},{"c":2,"x":59.7,"y":0.52},{"c":2,"x":62.7,"y":0.32},{"c":2,"x":65.7,"y":0.81},{"c":2,"x":68.7,"y":0.27},{"c":2,"x":71.7,"y":0.59},{"c":2,"x":74.7,"y":0.14},{"c":2,"x":77.7,"y":0.45},{"c":2,"x":80.7,"y":0.77},
      {"c":2,"x":52.9,"y":0.05},{"c":2,"x":55.9,"y":0.15},{"c":2,"x":58.9,"y":0.03},{"c":2,"x":61.9,"y":0.2},{"c":2,"x":64.9,"y":0.1},{"c":2,"x":67.9,"y":0.25},{"c":2,"x":70.9,"y":0.07},{"c":2,"x":73.9,"y":0.12},{"c":2,"x":76.9,"y":0.05},{"c":2,"x":79.9,"y":0.15},{"c":2,"x":82.9,"y":0.03},
      {"c":2,"x":73,"y":1.85},{"c":2,"x":63,"y":1.45},{"c":2,"x":68,"y":1.45},{"c":2,"x":57,"y":1.4},{"c":2,"x":76.3,"y":1.35},{"c":2,"x":66.3,"y":1.3},{"c":2,"x":61.3,"y":1.2},{"c":2,"x":69.7,"y":1.1},{"c":2,"x":78,"y":1.0},{"c":2,"x":53,"y":0.95},{"c":2,"x":81.3,"y":0.85},{"c":2,"x":59,"y":1.0},{"c":2,"x":71.5,"y":1.15},{"c":2,"x":65,"y":0.95},
      {"c":3,"x":84.5,"y":0.27},{"c":3,"x":86,"y":0.12},{"c":3,"x":87.5,"y":0.63},{"c":3,"x":89,"y":0.34},{"c":3,"x":90.5,"y":0.04},{"c":3,"x":92,"y":0.41},{"c":3,"x":93.5,"y":0.19},{"c":3,"x":95,"y":0.55},{"c":3,"x":96.5,"y":0.1},{"c":3,"x":98,"y":0.3},{"c":3,"x":99.5,"y":0.08},{"c":3,"x":101,"y":0.49},{"c":3,"x":102.5,"y":0.27},{"c":3,"x":104,"y":0.12},{"c":3,"x":105.5,"y":0.63},{"c":3,"x":107,"y":0.34},{"c":3,"x":108.5,"y":0.04},{"c":3,"x":110,"y":0.41},{"c":3,"x":111.5,"y":0.19},{"c":3,"x":113,"y":0.55},{"c":3,"x":114.5,"y":0.1},
      {"c":3,"x":86.7,"y":0.07},{"c":3,"x":89.7,"y":0.38},{"c":3,"x":92.7,"y":0.23},{"c":3,"x":95.7,"y":0.59},{"c":3,"x":98.7,"y":0.2},{"c":3,"x":101.7,"y":0.42},{"c":3,"x":104.7,"y":0.1},{"c":3,"x":107.7,"y":0.33},{"c":3,"x":110.7,"y":0.55},{"c":3,"x":113.7,"y":0.14},
      {"c":3,"x":85.9,"y":0.2},{"c":3,"x":88.9,"y":0.1},{"c":3,"x":91.9,"y":0.25},{"c":3,"x":94.9,"y":0.07},{"c":3,"x":97.9,"y":0.12},{"c":3,"x":100.9,"y":0.05},{"c":3,"x":103.9,"y":0.15},{"c":3,"x":106.9,"y":0.03},{"c":3,"x":109.9,"y":0.2},{"c":3,"x":112.9,"y":0.1},{"c":3,"x":115.4,"y":0.25},
      {"c":3,"x":88,"y":3.7},{"c":3,"x":83,"y":1.68},{"c":3,"x":94.7,"y":1.55},{"c":3,"x":90.7,"y":1.35},{"c":3,"x":97,"y":1.3},{"c":3,"x":90.7,"y":1.15},{"c":3,"x":89.7,"y":1.0},{"c":3,"x":93,"y":0.85},{"c":3,"x":105.7,"y":1.95},{"c":3,"x":113,"y":2.0},{"c":3,"x":115.7,"y":1.85},{"c":3,"x":111.3,"y":1.25},{"c":3,"x":116.3,"y":1.1},{"c":3,"x":86,"y":0.8},{"c":3,"x":100,"y":0.75},{"c":3,"x":108,"y":0.7},
      {"c":4,"x":116.5,"y":0.34},{"c":4,"x":118,"y":0.15},{"c":4,"x":119.5,"y":0.88},{"c":4,"x":121,"y":0.45},{"c":4,"x":122.5,"y":0.05},{"c":4,"x":124,"y":0.56},{"c":4,"x":125.5,"y":0.24},{"c":4,"x":127,"y":0.76},{"c":4,"x":128.5,"y":0.12},{"c":4,"x":130,"y":0.4},{"c":4,"x":131.5,"y":0.08},{"c":4,"x":133,"y":0.68},{"c":4,"x":134.5,"y":0.34},{"c":4,"x":136,"y":0.15},{"c":4,"x":137.5,"y":0.88},{"c":4,"x":139,"y":0.45},{"c":4,"x":140.5,"y":0.05},
      {"c":4,"x":117.3,"y":0.6},{"c":4,"x":120.3,"y":0.2},{"c":4,"x":123.3,"y":0.5},{"c":4,"x":126.3,"y":0.28},{"c":4,"x":129.3,"y":0.7},{"c":4,"x":132.3,"y":0.18},{"c":4,"x":135.3,"y":0.62},{"c":4,"x":138.3,"y":0.25},{"c":4,"x":141.3,"y":0.45},
      {"c":4,"x":118.7,"y":0.52},{"c":4,"x":121.7,"y":0.32},{"c":4,"x":124.7,"y":0.81},{"c":4,"x":127.7,"y":0.27},{"c":4,"x":130.7,"y":0.59},{"c":4,"x":133.7,"y":0.14},{"c":4,"x":136.7,"y":0.45},{"c":4,"x":139.7,"y":0.77},
      {"c":4,"x":117.9,"y":0.07},{"c":4,"x":120.9,"y":0.12},{"c":4,"x":123.9,"y":0.05},{"c":4,"x":126.9,"y":0.15},{"c":4,"x":129.9,"y":0.03},{"c":4,"x":132.9,"y":0.2},{"c":4,"x":135.9,"y":0.1},{"c":4,"x":138.9,"y":0.25},{"c":4,"x":141.6,"y":0.07},
      {"c":4,"x":123,"y":5.95},{"c":4,"x":132.3,"y":1.6},{"c":4,"x":123,"y":1.4},{"c":4,"x":127,"y":1.2},{"c":4,"x":118.7,"y":1.15},{"c":4,"x":119.7,"y":1.05},{"c":4,"x":139,"y":1.0},{"c":4,"x":129.7,"y":0.9},{"c":4,"x":135,"y":0.95},{"c":4,"x":125,"y":0.9},
      {"c":5,"x":142.5,"y":0.05},{"c":5,"x":144,"y":0.62},{"c":5,"x":145.5,"y":0.26},{"c":5,"x":147,"y":0.85},{"c":5,"x":148.5,"y":0.12},{"c":5,"x":150,"y":0.44},{"c":5,"x":151.5,"y":0.08},{"c":5,"x":153,"y":0.75},{"c":5,"x":154.5,"y":0.38},{"c":5,"x":156,"y":0.16},{"c":5,"x":157.5,"y":0.98},{"c":5,"x":159,"y":0.5},{"c":5,"x":160.5,"y":0.05},{"c":5,"x":162,"y":0.62},{"c":5,"x":163.5,"y":0.26},{"c":5,"x":165,"y":0.85},{"c":5,"x":166.5,"y":0.12},{"c":5,"x":168,"y":0.44},{"c":5,"x":169.5,"y":0.08},{"c":5,"x":171,"y":0.75},{"c":5,"x":172.5,"y":0.38},{"c":5,"x":174,"y":0.16},
      {"c":5,"x":143.3,"y":0.55},{"c":5,"x":146.3,"y":0.2},{"c":5,"x":149.3,"y":0.7},{"c":5,"x":152.3,"y":0.32},{"c":5,"x":155.3,"y":0.45},{"c":5,"x":158.3,"y":0.25},{"c":5,"x":161.3,"y":0.8},{"c":5,"x":164.3,"y":0.18},{"c":5,"x":167.3,"y":0.6},{"c":5,"x":170.3,"y":0.3},{"c":5,"x":173.3,"y":0.5},
      {"c":5,"x":144.7,"y":0.35},{"c":5,"x":147.7,"y":0.9},{"c":5,"x":150.7,"y":0.3},{"c":5,"x":153.7,"y":0.65},{"c":5,"x":156.7,"y":0.15},{"c":5,"x":159.7,"y":0.5},{"c":5,"x":162.7,"y":0.85},{"c":5,"x":165.7,"y":0.22},{"c":5,"x":168.7,"y":0.4},{"c":5,"x":171.7,"y":0.72},
      {"c":5,"x":143.9,"y":0.12},{"c":5,"x":146.9,"y":0.05},{"c":5,"x":149.9,"y":0.15},{"c":5,"x":152.9,"y":0.03},{"c":5,"x":155.9,"y":0.2},{"c":5,"x":158.9,"y":0.1},{"c":5,"x":161.9,"y":0.25},{"c":5,"x":164.9,"y":0.07},{"c":5,"x":167.9,"y":0.12},{"c":5,"x":170.9,"y":0.05},{"c":5,"x":173.9,"y":0.15},
      {"c":5,"x":167.3,"y":2.15},{"c":5,"x":162.3,"y":1.7},{"c":5,"x":164.7,"y":1.65},{"c":5,"x":166.3,"y":1.55},{"c":5,"x":165.7,"y":1.45},{"c":5,"x":143,"y":1.25},{"c":5,"x":154.7,"y":1.3},{"c":5,"x":144.7,"y":1.2},{"c":5,"x":153.7,"y":1.35},{"c":5,"x":173,"y":1.22},{"c":5,"x":159.7,"y":1.0},{"c":5,"x":149.7,"y":1.05},{"c":5,"x":170,"y":1.05},{"c":5,"x":157,"y":1.1},
      {"c":6,"x":175.5,"y":0.08},{"c":6,"x":177,"y":0.45},{"c":6,"x":178.5,"y":0.25},{"c":6,"x":180,"y":0.12},{"c":6,"x":181.5,"y":0.58},{"c":6,"x":183,"y":0.32},{"c":6,"x":184.5,"y":0.04},{"c":6,"x":186,"y":0.38},{"c":6,"x":187.5,"y":0.18},{"c":6,"x":189,"y":0.5},{"c":6,"x":190.5,"y":0.1},{"c":6,"x":192,"y":0.28},{"c":6,"x":193.5,"y":0.08},{"c":6,"x":195,"y":0.45},{"c":6,"x":196.5,"y":0.25},{"c":6,"x":198,"y":0.12},{"c":6,"x":199.5,"y":0.58},
      {"c":6,"x":176.3,"y":0.3},{"c":6,"x":179.3,"y":0.15},{"c":6,"x":182.3,"y":0.5},{"c":6,"x":185.3,"y":0.22},{"c":6,"x":188.3,"y":0.4},{"c":6,"x":191.3,"y":0.2},{"c":6,"x":194.3,"y":0.35},{"c":6,"x":197.3,"y":0.1},
      {"c":6,"x":177.7,"y":0.54},{"c":6,"x":180.7,"y":0.18},{"c":6,"x":183.7,"y":0.39},{"c":6,"x":186.7,"y":0.09},{"c":6,"x":189.7,"y":0.3},{"c":6,"x":192.7,"y":0.51},{"c":6,"x":195.7,"y":0.13},{"c":6,"x":198.7,"y":0.24},
      {"c":6,"x":176.9,"y":0.03},{"c":6,"x":179.9,"y":0.2},{"c":6,"x":182.9,"y":0.1},{"c":6,"x":185.9,"y":0.25},{"c":6,"x":188.9,"y":0.07},{"c":6,"x":191.9,"y":0.12},{"c":6,"x":194.9,"y":0.05},{"c":6,"x":197.9,"y":0.15},
      {"c":6,"x":199,"y":2.15},{"c":6,"x":190.3,"y":1.45},{"c":6,"x":188,"y":1.3},{"c":6,"x":196.3,"y":1.2},{"c":6,"x":179.7,"y":1.1},{"c":6,"x":191.3,"y":1.15},{"c":6,"x":183,"y":1.0},{"c":6,"x":186.3,"y":0.9},{"c":6,"x":177,"y":0.75},{"c":6,"x":193.5,"y":0.7},{"c":6,"x":181,"y":0.85},
      {"c":7,"x":200.5,"y":0.05},{"c":7,"x":202,"y":0.56},{"c":7,"x":203.5,"y":0.24},{"c":7,"x":205,"y":0.76},{"c":7,"x":206.5,"y":0.12},{"c":7,"x":208,"y":0.4},{"c":7,"x":209.5,"y":0.08},{"c":7,"x":211,"y":0.68},{"c":7,"x":212.5,"y":0.34},{"c":7,"x":214,"y":0.15},{"c":7,"x":215.5,"y":0.88},{"c":7,"x":217,"y":0.45},{"c":7,"x":218.5,"y":0.05},{"c":7,"x":220,"y":0.56},{"c":7,"x":221.5,"y":0.24},{"c":7,"x":223,"y":0.76},{"c":7,"x":224.5,"y":0.12},{"c":7,"x":226,"y":0.4},{"c":7,"x":227.5,"y":0.08},{"c":7,"x":229,"y":0.68},{"c":7,"x":230.5,"y":0.34},
      {"c":7,"x":201.3,"y":0.3},{"c":7,"x":204.3,"y":0.65},{"c":7,"x":207.3,"y":0.2},{"c":7,"x":210.3,"y":0.5},{"c":7,"x":213.3,"y":0.28},{"c":7,"x":216.3,"y":0.8},{"c":7,"x":219.3,"y":0.18},{"c":7,"x":222.3,"y":0.55},{"c":7,"x":225.3,"y":0.25},{"c":7,"x":228.3,"y":0.6},
      {"c":7,"x":202.7,"y":0.27},{"c":7,"x":205.7,"y":0.59},{"c":7,"x":208.7,"y":0.14},{"c":7,"x":211.7,"y":0.45},{"c":7,"x":214.7,"y":0.77},{"c":7,"x":217.7,"y":0.2},{"c":7,"x":220.7,"y":0.36},{"c":7,"x":223.7,"y":0.65},{"c":7,"x":226.7,"y":0.09},{"c":7,"x":229.7,"y":0.52},
      {"c":7,"x":201.9,"y":0.03},{"c":7,"x":204.9,"y":0.2},{"c":7,"x":207.9,"y":0.1},{"c":7,"x":210.9,"y":0.25},{"c":7,"x":213.9,"y":0.07},{"c":7,"x":216.9,"y":0.12},{"c":7,"x":219.9,"y":0.05},{"c":7,"x":222.9,"y":0.15},{"c":7,"x":225.9,"y":0.03},{"c":7,"x":228.9,"y":0.2},
      {"c":7,"x":207,"y":1.62},{"c":7,"x":224.7,"y":2.0},{"c":7,"x":218.7,"y":1.72},{"c":7,"x":216.3,"y":1.65},{"c":7,"x":209.7,"y":1.45},{"c":7,"x":211.3,"y":1.15},{"c":7,"x":204.7,"y":1.0},{"c":7,"x":219.7,"y":1.05},{"c":7,"x":229.7,"y":0.95},{"c":7,"x":218,"y":1.8},{"c":7,"x":213,"y":1.2},{"c":7,"x":226.3,"y":1.0},{"c":7,"x":229.7,"y":1.25},{"c":7,"x":221.5,"y":1.1},{"c":7,"x":202,"y":1.1},
      {"c":8,"x":231.5,"y":0.12},{"c":8,"x":233,"y":0.58},{"c":8,"x":234.5,"y":0.32},{"c":8,"x":236,"y":0.04},{"c":8,"x":237.5,"y":0.38},{"c":8,"x":239,"y":0.18},{"c":8,"x":240.5,"y":0.5},{"c":8,"x":242,"y":0.1},{"c":8,"x":243.5,"y":0.28},{"c":8,"x":245,"y":0.08},{"c":8,"x":246.5,"y":0.45},{"c":8,"x":248,"y":0.25},{"c":8,"x":249.5,"y":0.12},{"c":8,"x":251,"y":0.58},{"c":8,"x":252.5,"y":0.32},{"c":8,"x":254,"y":0.04},{"c":8,"x":255.5,"y":0.38},{"c":8,"x":257,"y":0.18},
      {"c":8,"x":235,"y":0.2},{"c":8,"x":238,"y":0.42},{"c":8,"x":241,"y":0.15},{"c":8,"x":244,"y":0.3},{"c":8,"x":247.3,"y":0.5},{"c":8,"x":250.3,"y":0.22},{"c":8,"x":253.3,"y":0.55},{"c":8,"x":256.3,"y":0.3},
      {"c":8,"x":233.7,"y":0.39},{"c":8,"x":236.7,"y":0.09},{"c":8,"x":239.7,"y":0.3},{"c":8,"x":242.7,"y":0.51},{"c":8,"x":245.7,"y":0.13},{"c":8,"x":248.7,"y":0.24},{"c":8,"x":251.7,"y":0.43},{"c":8,"x":254.7,"y":0.06},{"c":8,"x":257.2,"y":0.35},
      {"c":8,"x":232.9,"y":0.1},{"c":8,"x":235.9,"y":0.25},{"c":8,"x":238.9,"y":0.07},{"c":8,"x":241.9,"y":0.12},{"c":8,"x":244.9,"y":0.05},{"c":8,"x":247.9,"y":0.15},{"c":8,"x":250.9,"y":0.03},{"c":8,"x":253.9,"y":0.2},{"c":8,"x":256.9,"y":0.1},
      {"c":8,"x":232,"y":1.98},{"c":8,"x":233.7,"y":1.18},{"c":8,"x":249.7,"y":2.85},{"c":8,"x":250.3,"y":1.2},{"c":8,"x":254.7,"y":1.4},{"c":8,"x":255.7,"y":1.35},{"c":8,"x":252.3,"y":1.05},{"c":8,"x":246.3,"y":0.9},{"c":8,"x":239.7,"y":0.75},{"c":8,"x":257,"y":0.8},{"c":8,"x":236,"y":0.65},
      {"c":9,"x":258.5,"y":0.04},{"c":9,"x":260,"y":0.38},{"c":9,"x":261.5,"y":0.18},{"c":9,"x":263,"y":0.5},{"c":9,"x":264.5,"y":0.1},{"c":9,"x":266,"y":0.28},{"c":9,"x":267.5,"y":0.08},{"c":9,"x":269,"y":0.45},{"c":9,"x":270.5,"y":0.25},{"c":9,"x":272,"y":0.12},{"c":9,"x":273.5,"y":0.58},{"c":9,"x":275,"y":0.32},{"c":9,"x":276.5,"y":0.04},{"c":9,"x":278,"y":0.38},{"c":9,"x":279.5,"y":0.18},{"c":9,"x":281,"y":0.5},{"c":9,"x":282.5,"y":0.1},
      {"c":9,"x":259.3,"y":0.25},{"c":9,"x":262.3,"y":0.5},{"c":9,"x":265.3,"y":0.15},{"c":9,"x":268.3,"y":0.35},{"c":9,"x":271.3,"y":0.22},{"c":9,"x":274.3,"y":0.4},{"c":9,"x":277.3,"y":0.2},{"c":9,"x":280.3,"y":0.3},{"c":9,"x":283.3,"y":0.45},
      {"c":9,"x":260.7,"y":0.09},{"c":9,"x":263.7,"y":0.3},{"c":9,"x":266.7,"y":0.51},{"c":9,"x":269.7,"y":0.13},{"c":9,"x":272.7,"y":0.24},{"c":9,"x":275.7,"y":0.43},{"c":9,"x":278.7,"y":0.06},{"c":9,"x":281.7,"y":0.35},
      {"c":9,"x":259.9,"y":0.25},{"c":9,"x":262.9,"y":0.07},{"c":9,"x":265.9,"y":0.12},{"c":9,"x":268.9,"y":0.05},{"c":9,"x":271.9,"y":0.15},{"c":9,"x":274.9,"y":0.03},{"c":9,"x":277.9,"y":0.2},{"c":9,"x":280.9,"y":0.1},{"c":9,"x":283.6,"y":0.25},
      {"c":9,"x":261.3,"y":1.2},{"c":9,"x":268,"y":1.05},{"c":9,"x":279,"y":1.3},{"c":9,"x":279.7,"y":1.15},{"c":9,"x":274.7,"y":0.85},{"c":9,"x":281.3,"y":0.8},{"c":9,"x":266.3,"y":0.7},{"c":9,"x":271,"y":0.68},{"c":9,"x":263,"y":0.75},{"c":9,"x":277,"y":0.95},
      {"c":10,"x":284.5,"y":0.55},{"c":10,"x":286,"y":0.1},{"c":10,"x":287.5,"y":0.3},{"c":10,"x":289,"y":0.08},{"c":10,"x":290.5,"y":0.49},{"c":10,"x":292,"y":0.27},{"c":10,"x":293.5,"y":0.12},{"c":10,"x":295,"y":0.63},{"c":10,"x":296.5,"y":0.34},{"c":10,"x":298,"y":0.04},{"c":10,"x":299.5,"y":0.41},{"c":10,"x":301,"y":0.19},{"c":10,"x":302.5,"y":0.55},{"c":10,"x":304,"y":0.1},{"c":10,"x":305.5,"y":0.3},
      {"c":10,"x":285.3,"y":0.2},{"c":10,"x":288.3,"y":0.45},{"c":10,"x":291.3,"y":0.15},{"c":10,"x":294.3,"y":0.38},{"c":10,"x":297.3,"y":0.22},{"c":10,"x":300.3,"y":0.52},{"c":10,"x":303.3,"y":0.28},
      {"c":10,"x":286.7,"y":0.33},{"c":10,"x":289.7,"y":0.55},{"c":10,"x":292.7,"y":0.14},{"c":10,"x":295.7,"y":0.26},{"c":10,"x":298.7,"y":0.47},{"c":10,"x":301.7,"y":0.07},{"c":10,"x":304.7,"y":0.38},
      {"c":10,"x":285.9,"y":0.07},{"c":10,"x":288.9,"y":0.12},{"c":10,"x":291.9,"y":0.05},{"c":10,"x":294.9,"y":0.15},{"c":10,"x":297.9,"y":0.03},{"c":10,"x":300.9,"y":0.2},{"c":10,"x":303.9,"y":0.1},
      {"c":10,"x":290.7,"y":2.2},{"c":10,"x":290.7,"y":1.58},{"c":10,"x":300.7,"y":1.45},{"c":10,"x":290.7,"y":1.05},{"c":10,"x":293,"y":0.95},{"c":10,"x":287,"y":0.9},{"c":10,"x":299.7,"y":0.85},{"c":10,"x":296.3,"y":0.7},{"c":10,"x":304,"y":0.75},{"c":10,"x":285,"y":0.7},
      {"c":11,"x":306.5,"y":0.12},{"c":11,"x":308,"y":0.68},{"c":11,"x":309.5,"y":0.36},{"c":11,"x":311,"y":0.04},{"c":11,"x":312.5,"y":0.44},{"c":11,"x":314,"y":0.2},{"c":11,"x":315.5,"y":0.6},{"c":11,"x":317,"y":0.1},{"c":11,"x":318.5,"y":0.32},{"c":11,"x":320,"y":0.08},{"c":11,"x":321.5,"y":0.52},{"c":11,"x":323,"y":0.28},{"c":11,"x":324.5,"y":0.12},{"c":11,"x":326,"y":0.68},{"c":11,"x":327.5,"y":0.36},{"c":11,"x":329,"y":0.04},
      {"c":11,"x":307.3,"y":0.3},{"c":11,"x":310.3,"y":0.5},{"c":11,"x":313.3,"y":0.18},{"c":11,"x":316.3,"y":0.58},{"c":11,"x":319.3,"y":0.25},{"c":11,"x":322.3,"y":0.45},{"c":11,"x":325.3,"y":0.2},{"c":11,"x":328.3,"y":0.38},
      {"c":11,"x":308.7,"y":0.6},{"c":11,"x":311.7,"y":0.15},{"c":11,"x":314.7,"y":0.28},{"c":11,"x":317.7,"y":0.5},{"c":11,"x":320.7,"y":0.07},{"c":11,"x":323.7,"y":0.41},{"c":11,"x":326.7,"y":0.25},{"c":11,"x":329.4,"y":0.63},
      {"c":11,"x":307.9,"y":0.25},{"c":11,"x":310.9,"y":0.07},{"c":11,"x":313.9,"y":0.12},{"c":11,"x":316.9,"y":0.05},{"c":11,"x":319.9,"y":0.15},{"c":11,"x":322.9,"y":0.03},{"c":11,"x":325.9,"y":0.2},{"c":11,"x":328.9,"y":0.1},
      {"c":11,"x":309.7,"y":6.33},{"c":11,"x":320.7,"y":1.7},{"c":11,"x":321.3,"y":1.65},{"c":11,"x":328,"y":1.25},{"c":11,"x":313,"y":1.2},{"c":11,"x":315.3,"y":1.15},{"c":11,"x":319.7,"y":0.95},{"c":11,"x":308,"y":0.9},{"c":11,"x":323,"y":1.0},{"c":11,"x":311,"y":0.8},{"c":11,"x":326,"y":0.85},{"c":11,"x":317,"y":0.78},
      {"c":12,"x":330.5,"y":0.78},{"c":12,"x":332,"y":0.4},{"c":12,"x":333.5,"y":0.05},{"c":12,"x":335,"y":0.5},{"c":12,"x":336.5,"y":0.22},{"c":12,"x":338,"y":0.68},{"c":12,"x":339.5,"y":0.1},{"c":12,"x":341,"y":0.35},{"c":12,"x":342.5,"y":0.08},{"c":12,"x":344,"y":0.6},{"c":12,"x":345.5,"y":0.3},{"c":12,"x":347,"y":0.14},{"c":12,"x":348.5,"y":0.78},{"c":12,"x":350,"y":0.4},{"c":12,"x":351.5,"y":0.05},{"c":12,"x":353,"y":0.5},{"c":12,"x":354.5,"y":0.22},
      {"c":12,"x":331.3,"y":0.25},{"c":12,"x":334.3,"y":0.6},{"c":12,"x":337.3,"y":0.18},{"c":12,"x":340.3,"y":0.45},{"c":12,"x":343.3,"y":0.3},{"c":12,"x":346.3,"y":0.7},{"c":12,"x":349.3,"y":0.15},{"c":12,"x":352.3,"y":0.55},{"c":12,"x":355,"y":0.3},
      {"c":12,"x":332.7,"y":0.18},{"c":12,"x":335.7,"y":0.32},{"c":12,"x":338.7,"y":0.58},{"c":12,"x":341.7,"y":0.08},{"c":12,"x":344.7,"y":0.46},{"c":12,"x":347.7,"y":0.28},{"c":12,"x":350.7,"y":0.72},{"c":12,"x":353.7,"y":0.24},
      {"c":12,"x":331.9,"y":0.25},{"c":12,"x":334.9,"y":0.07},{"c":12,"x":337.9,"y":0.12},{"c":12,"x":340.9,"y":0.05},{"c":12,"x":343.9,"y":0.15},{"c":12,"x":346.9,"y":0.03},{"c":12,"x":349.9,"y":0.2},{"c":12,"x":352.9,"y":0.1},
      {"c":12,"x":334,"y":2.05},{"c":12,"x":339.7,"y":1.4},{"c":12,"x":348,"y":1.55},{"c":12,"x":349.7,"y":1.45},{"c":12,"x":353,"y":1.35},{"c":12,"x":345.7,"y":1.3},{"c":12,"x":332,"y":1.2},{"c":12,"x":342.3,"y":1.05},{"c":12,"x":350.3,"y":1.0},{"c":12,"x":334.7,"y":0.85},{"c":12,"x":337,"y":0.95},{"c":12,"x":344,"y":0.9},{"c":12,"x":355,"y":1.1},
      {"c":13,"x":355.5,"y":0.28},{"c":13,"x":357,"y":0.08},{"c":13,"x":358.5,"y":0.45},{"c":13,"x":360,"y":0.25},{"c":13,"x":361.5,"y":0.12},{"c":13,"x":363,"y":0.58},{"c":13,"x":364.5,"y":0.32},{"c":13,"x":366,"y":0.04},{"c":13,"x":367.5,"y":0.38},{"c":13,"x":369,"y":0.18},{"c":13,"x":370.5,"y":0.5},{"c":13,"x":372,"y":0.1},{"c":13,"x":373.5,"y":0.28},{"c":13,"x":375,"y":0.08},{"c":13,"x":376.5,"y":0.45},{"c":13,"x":378,"y":0.25},{"c":13,"x":379.5,"y":0.12},{"c":13,"x":381,"y":0.58},{"c":13,"x":382.5,"y":0.32},
      {"c":13,"x":356.3,"y":0.4},{"c":13,"x":359.3,"y":0.2},{"c":13,"x":362.3,"y":0.3},{"c":13,"x":365.3,"y":0.5},{"c":13,"x":368.3,"y":0.15},{"c":13,"x":371.3,"y":0.35},{"c":13,"x":374.3,"y":0.22},{"c":13,"x":377.3,"y":0.45},{"c":13,"x":380.3,"y":0.2},
      {"c":13,"x":357.7,"y":0.24},{"c":13,"x":360.7,"y":0.43},{"c":13,"x":363.7,"y":0.06},{"c":13,"x":366.7,"y":0.35},{"c":13,"x":369.7,"y":0.21},{"c":13,"x":372.7,"y":0.54},{"c":13,"x":375.7,"y":0.18},{"c":13,"x":378.7,"y":0.39},{"c":13,"x":381.7,"y":0.09},
      {"c":13,"x":356.9,"y":0.25},{"c":13,"x":359.9,"y":0.07},{"c":13,"x":362.9,"y":0.12},{"c":13,"x":365.9,"y":0.05},{"c":13,"x":368.9,"y":0.15},{"c":13,"x":371.9,"y":0.03},{"c":13,"x":374.9,"y":0.2},{"c":13,"x":377.9,"y":0.1},{"c":13,"x":380.9,"y":0.25},
      {"c":13,"x":355.7,"y":1.35},{"c":13,"x":357,"y":1.2},{"c":13,"x":360.7,"y":1.7},{"c":13,"x":379.7,"y":3.02},{"c":13,"x":378.7,"y":1.95},{"c":13,"x":380.7,"y":1.7},{"c":13,"x":373.7,"y":1.3},{"c":13,"x":378.7,"y":1.0},{"c":13,"x":366.3,"y":0.9},{"c":13,"x":358,"y":0.95},{"c":13,"x":370,"y":0.75},{"c":13,"x":382,"y":0.85},{"c":13,"x":363,"y":0.7},
      {"c":14,"x":383.5,"y":0.06},{"c":14,"x":385,"y":0.34},{"c":14,"x":386.5,"y":0.18},{"c":14,"x":388,"y":0.1},{"c":14,"x":389.5,"y":0.44},{"c":14,"x":391,"y":0.24},{"c":14,"x":392.5,"y":0.03},{"c":14,"x":394,"y":0.29},{"c":14,"x":395.5,"y":0.14},{"c":14,"x":397,"y":0.38},{"c":14,"x":398.5,"y":0.08},{"c":14,"x":400,"y":0.21},
      {"c":14,"x":384.3,"y":0.25},{"c":14,"x":387.3,"y":0.12},{"c":14,"x":390.3,"y":0.38},{"c":14,"x":393.3,"y":0.2},{"c":14,"x":396.3,"y":0.3},{"c":14,"x":399.3,"y":0.1},
      {"c":14,"x":385.7,"y":0.32},{"c":14,"x":388.7,"y":0.05},{"c":14,"x":391.7,"y":0.26},{"c":14,"x":394.7,"y":0.16},{"c":14,"x":397.7,"y":0.41},{"c":14,"x":400.4,"y":0.14},
      {"c":14,"x":384.9,"y":0.07},{"c":14,"x":387.9,"y":0.12},{"c":14,"x":390.9,"y":0.05},{"c":14,"x":393.9,"y":0.15},{"c":14,"x":396.9,"y":0.03},{"c":14,"x":399.9,"y":0.2},
      {"c":14,"x":388.7,"y":1.9},{"c":14,"x":386.3,"y":1.05},{"c":14,"x":389.7,"y":1.0},{"c":14,"x":393,"y":0.9},{"c":14,"x":398,"y":0.8},{"c":14,"x":399,"y":0.95},{"c":14,"x":383,"y":0.7},{"c":14,"x":391,"y":0.6},{"c":14,"x":395,"y":0.55},{"c":14,"x":385,"y":0.55},
      {"c":15,"x":401.5,"y":0.2},{"c":15,"x":403,"y":0.6},{"c":15,"x":404.5,"y":0.1},{"c":15,"x":406,"y":0.32},{"c":15,"x":407.5,"y":0.08},{"c":15,"x":409,"y":0.52},{"c":15,"x":410.5,"y":0.28},{"c":15,"x":412,"y":0.12},{"c":15,"x":413.5,"y":0.68},{"c":15,"x":415,"y":0.36},{"c":15,"x":416.5,"y":0.04},{"c":15,"x":418,"y":0.44},{"c":15,"x":419.5,"y":0.2},{"c":15,"x":421,"y":0.6},{"c":15,"x":422.5,"y":0.1},
      {"c":15,"x":402.3,"y":0.4},{"c":15,"x":405.3,"y":0.15},{"c":15,"x":408.3,"y":0.55},{"c":15,"x":411.3,"y":0.25},{"c":15,"x":414.3,"y":0.45},{"c":15,"x":417.3,"y":0.18},{"c":15,"x":420.3,"y":0.35},{"c":15,"x":423.3,"y":0.28},
      {"c":15,"x":403.7,"y":0.07},{"c":15,"x":406.7,"y":0.41},{"c":15,"x":409.7,"y":0.25},{"c":15,"x":412.7,"y":0.63},{"c":15,"x":415.7,"y":0.21},{"c":15,"x":418.7,"y":0.46},{"c":15,"x":421.7,"y":0.11},
      {"c":15,"x":402.9,"y":0.1},{"c":15,"x":405.9,"y":0.25},{"c":15,"x":408.9,"y":0.07},{"c":15,"x":411.9,"y":0.12},{"c":15,"x":414.9,"y":0.05},{"c":15,"x":417.9,"y":0.15},{"c":15,"x":420.9,"y":0.03},{"c":15,"x":423.6,"y":0.2},
      {"c":15,"x":402.3,"y":3.0},{"c":15,"x":405,"y":1.85},{"c":15,"x":414.7,"y":1.8},{"c":15,"x":417,"y":1.75},{"c":15,"x":422.3,"y":1.65},{"c":15,"x":408.3,"y":1.35},{"c":15,"x":413,"y":1.0},{"c":15,"x":418,"y":1.1},{"c":15,"x":404.7,"y":0.9},{"c":15,"x":410,"y":0.85},{"c":15,"x":420,"y":0.95},{"c":15,"x":423.5,"y":0.8},
      {"c":16,"x":424.5,"y":0.58},{"c":16,"x":426,"y":0.32},{"c":16,"x":427.5,"y":0.04},{"c":16,"x":429,"y":0.38},{"c":16,"x":430.5,"y":0.18},{"c":16,"x":432,"y":0.5},{"c":16,"x":433.5,"y":0.1},{"c":16,"x":435,"y":0.28},{"c":16,"x":436.5,"y":0.08},{"c":16,"x":438,"y":0.45},{"c":16,"x":439.5,"y":0.25},{"c":16,"x":441,"y":0.12},{"c":16,"x":442.5,"y":0.58},
      {"c":16,"x":425.3,"y":0.2},{"c":16,"x":428.3,"y":0.42},{"c":16,"x":431.3,"y":0.15},{"c":16,"x":434.3,"y":0.35},{"c":16,"x":437.3,"y":0.25},{"c":16,"x":440.3,"y":0.3},
      {"c":16,"x":426.7,"y":0.35},{"c":16,"x":429.7,"y":0.21},{"c":16,"x":432.7,"y":0.54},{"c":16,"x":435.7,"y":0.18},{"c":16,"x":438.7,"y":0.39},{"c":16,"x":441.7,"y":0.09},
      {"c":16,"x":425.9,"y":0.1},{"c":16,"x":428.9,"y":0.25},{"c":16,"x":431.9,"y":0.07},{"c":16,"x":434.9,"y":0.12},{"c":16,"x":437.9,"y":0.05},{"c":16,"x":440.9,"y":0.15},
      {"c":16,"x":431.7,"y":3.6},{"c":16,"x":426.3,"y":1.05},{"c":16,"x":428,"y":1.0},{"c":16,"x":436.3,"y":0.9},{"c":16,"x":443,"y":1.2},{"c":16,"x":439.7,"y":0.85},{"c":16,"x":433,"y":0.75},{"c":16,"x":430,"y":0.7},{"c":16,"x":441,"y":0.72},
      {"c":17,"x":443.5,"y":0.63},{"c":17,"x":445,"y":0.34},{"c":17,"x":446.5,"y":0.04},{"c":17,"x":448,"y":0.41},{"c":17,"x":449.5,"y":0.19},{"c":17,"x":451,"y":0.55},{"c":17,"x":452.5,"y":0.1},{"c":17,"x":454,"y":0.3},{"c":17,"x":455.5,"y":0.08},{"c":17,"x":457,"y":0.49},{"c":17,"x":458.5,"y":0.27},{"c":17,"x":460,"y":0.12},{"c":17,"x":461.5,"y":0.63},{"c":17,"x":463,"y":0.34},{"c":17,"x":464.5,"y":0.04},
      {"c":17,"x":444.3,"y":0.2},{"c":17,"x":447.3,"y":0.45},{"c":17,"x":450.3,"y":0.15},{"c":17,"x":453.3,"y":0.52},{"c":17,"x":456.3,"y":0.28},{"c":17,"x":459.3,"y":0.38},{"c":17,"x":462.3,"y":0.12},{"c":17,"x":465.3,"y":0.3},
      {"c":17,"x":445.7,"y":0.23},{"c":17,"x":448.7,"y":0.59},{"c":17,"x":451.7,"y":0.2},{"c":17,"x":454.7,"y":0.42},{"c":17,"x":457.7,"y":0.1},{"c":17,"x":460.7,"y":0.33},{"c":17,"x":463.7,"y":0.55},
      {"c":17,"x":444.9,"y":0.03},{"c":17,"x":447.9,"y":0.2},{"c":17,"x":450.9,"y":0.1},{"c":17,"x":453.9,"y":0.25},{"c":17,"x":456.9,"y":0.07},{"c":17,"x":459.9,"y":0.12},{"c":17,"x":462.9,"y":0.05},{"c":17,"x":465.6,"y":0.15},
      {"c":17,"x":452.7,"y":3.8},{"c":17,"x":446.3,"y":1.2},{"c":17,"x":452.3,"y":1.2},{"c":17,"x":459,"y":1.4},{"c":17,"x":448,"y":0.9},{"c":17,"x":458,"y":0.85},{"c":17,"x":461.3,"y":1.0},{"c":17,"x":465.3,"y":1.65},{"c":17,"x":455,"y":0.8},{"c":17,"x":450,"y":0.75},{"c":17,"x":463.5,"y":0.95},
      {"c":18,"x":466.5,"y":0.85},{"c":18,"x":468,"y":0.12},{"c":18,"x":469.5,"y":0.44},{"c":18,"x":471,"y":0.08},{"c":18,"x":472.5,"y":0.75},{"c":18,"x":474,"y":0.38},{"c":18,"x":475.5,"y":0.16},{"c":18,"x":477,"y":0.98},{"c":18,"x":478.5,"y":0.5},{"c":18,"x":480,"y":0.05},{"c":18,"x":481.5,"y":0.62},{"c":18,"x":483,"y":0.26},{"c":18,"x":484.5,"y":0.85},{"c":18,"x":486,"y":0.12},{"c":18,"x":487.5,"y":0.44},
      {"c":18,"x":467.3,"y":0.3},{"c":18,"x":470.3,"y":0.6},{"c":18,"x":473.3,"y":0.2},{"c":18,"x":476.3,"y":0.7},{"c":18,"x":479.3,"y":0.35},{"c":18,"x":482.3,"y":0.5},{"c":18,"x":485.3,"y":0.25},
      {"c":18,"x":468.7,"y":0.9},{"c":18,"x":471.7,"y":0.3},{"c":18,"x":474.7,"y":0.65},{"c":18,"x":477.7,"y":0.15},{"c":18,"x":480.7,"y":0.5},{"c":18,"x":483.7,"y":0.85},{"c":18,"x":486.7,"y":0.22},
      {"c":18,"x":467.9,"y":0.03},{"c":18,"x":470.9,"y":0.2},{"c":18,"x":473.9,"y":0.1},{"c":18,"x":476.9,"y":0.25},{"c":18,"x":479.9,"y":0.07},{"c":18,"x":482.9,"y":0.12},{"c":18,"x":485.9,"y":0.05},{"c":18,"x":488,"y":0.15},
      {"c":18,"x":468,"y":1.65},{"c":18,"x":469.7,"y":1.6},{"c":18,"x":473,"y":1.55},{"c":18,"x":476.3,"y":1.5},{"c":18,"x":481.3,"y":1.3},{"c":18,"x":469.7,"y":1.35},{"c":18,"x":471.3,"y":1.2},{"c":18,"x":479.7,"y":1.05},{"c":18,"x":483,"y":0.7},{"c":18,"x":467,"y":1.1},{"c":18,"x":474.5,"y":1.0},{"c":18,"x":477.5,"y":1.15},{"c":18,"x":486,"y":0.9},{"c":18,"x":484.5,"y":1.05}
    ],
    "qph": [
      {"e":0.01,"o":0.01},{"e":0.04,"o":0.04},{"e":0.08,"o":0.08},{"e":0.12,"o":0.13},{"e":0.16,"o":0.17},{"e":0.2,"o":0.21},{"e":0.24,"o":0.25},{"e":0.28,"o":0.3},{"e":0.32,"o":0.34},{"e":0.36,"o":0.38},{"e":0.4,"o":0.42},{"e":0.44,"o":0.47},{"e":0.48,"o":0.51},{"e":0.52,"o":0.55},{"e":0.56,"o":0.59},{"e":0.6,"o":0.63},{"e":0.64,"o":0.68},{"e":0.68,"o":0.72},{"e":0.72,"o":0.76},{"e":0.76,"o":0.8},{"e":0.8,"o":0.85},{"e":0.84,"o":0.89},{"e":0.88,"o":0.93},{"e":0.92,"o":0.97},{"e":0.96,"o":1.01},{"e":1.0,"o":1.05},{"e":1.04,"o":1.09},{"e":1.08,"o":1.13},{"e":1.12,"o":1.18},{"e":1.16,"o":1.22},{"e":1.2,"o":1.26},{"e":1.24,"o":1.3},{"e":1.28,"o":1.34},{"e":1.32,"o":1.38},{"e":1.36,"o":1.42},{"e":1.4,"o":1.46},{"e":1.44,"o":1.5},{"e":1.48,"o":1.55},{"e":1.52,"o":1.59},{"e":1.56,"o":1.63},{"e":1.6,"o":1.67},{"e":1.64,"o":1.7},{"e":1.68,"o":1.72},{"e":1.72,"o":1.74},{"e":1.76,"o":1.77},{"e":1.8,"o":1.82},{"e":1.83,"o":1.9},{"e":1.86,"o":1.99},{"e":1.89,"o":2.06},{"e":1.92,"o":2.1},{"e":1.96,"o":2.13},{"e":2.0,"o":2.15},{"e":2.04,"o":2.17},{"e":2.08,"o":2.19},{"e":2.12,"o":2.21},{"e":2.16,"o":2.23},{"e":2.2,"o":2.26},{"e":2.22,"o":2.38},{"e":2.25,"o":2.46},{"e":2.28,"o":2.52},{"e":2.32,"o":2.57},{"e":2.36,"o":2.62},{"e":2.4,"o":2.67},{"e":2.45,"o":2.71},{"e":2.5,"o":2.75},{"e":2.56,"o":2.8},{"e":2.63,"o":2.84},{"e":2.73,"o":2.97},{"e":2.83,"o":3.67},{"e":2.99,"o":4.0},{"e":3.2,"o":4.72},{"e":3.68,"o":6.12}
    ],
    "qsw": [
      {"e":0.01,"o":0.01},{"e":0.04,"o":0.04},{"e":0.08,"o":0.08},{"e":0.12,"o":0.12},{"e":0.16,"o":0.16},{"e":0.2,"o":0.2},{"e":0.24,"o":0.25},{"e":0.28,"o":0.29},{"e":0.32,"o":0.33},{"e":0.36,"o":0.37},{"e":0.4,"o":0.41},{"e":0.44,"o":0.45},{"e":0.48,"o":0.49},{"e":0.52,"o":0.53},{"e":0.56,"o":0.57},{"e":0.6,"o":0.61},{"e":0.64,"o":0.65},{"e":0.68,"o":0.7},{"e":0.72,"o":0.74},{"e":0.76,"o":0.78},{"e":0.8,"o":0.82},{"e":0.84,"o":0.86},{"e":0.88,"o":0.9},{"e":0.92,"o":0.94},{"e":0.96,"o":0.99},{"e":1.0,"o":1.03},{"e":1.04,"o":1.07},{"e":1.08,"o":1.11},{"e":1.12,"o":1.15},{"e":1.16,"o":1.19},{"e":1.2,"o":1.23},{"e":1.24,"o":1.27},{"e":1.28,"o":1.31},{"e":1.32,"o":1.35},{"e":1.36,"o":1.39},{"e":1.4,"o":1.43},{"e":1.44,"o":1.45},{"e":1.48,"o":1.46},{"e":1.52,"o":1.47},{"e":1.56,"o":1.51},{"e":1.6,"o":1.56},{"e":1.64,"o":1.62},{"e":1.68,"o":1.67},{"e":1.72,"o":1.71},{"e":1.76,"o":1.75},{"e":1.8,"o":1.79},{"e":1.84,"o":1.85},{"e":1.88,"o":1.93},{"e":1.92,"o":1.98},{"e":1.96,"o":2.01},{"e":2.0,"o":2.02},{"e":2.04,"o":2.03},{"e":2.08,"o":2.04},{"e":2.12,"o":2.04},{"e":2.16,"o":2.05},{"e":2.2,"o":2.06},{"e":2.24,"o":2.08},{"e":2.28,"o":2.13},{"e":2.32,"o":2.2},{"e":2.35,"o":2.24},{"e":2.39,"o":2.78},{"e":2.44,"o":2.85},{"e":2.5,"o":3.0},{"e":2.55,"o":3.02},{"e":2.63,"o":3.6},{"e":2.72,"o":3.7},{"e":2.83,"o":3.78},{"e":2.98,"o":4.22},{"e":3.2,"o":5.95},{"e":3.66,"o":6.33}
    ]
  },
  "spacing": 39,
  "vconcat": [
    {
      "title": {"text": "Plant Height", "fontSize": 21.5, "fontWeight": "bold", "color": "#000", "anchor": "start", "frame": "group", "dx": 187, "offset": -4.5},
      "bounds": "flush",
      "spacing": 43,
      "hconcat": [
        {
          "width": 497,
          "height": 179.5,
          "layer": [
            {
              "data": {"name": "ph"},
              "mark": {"type": "circle", "size": 21, "opacity": 1},
              "encoding": {
                "x": {"field": "x", "type": "quantitative", "scale": {"domain": [0, 497], "nice": false, "zero": false},
                  "axis": {"title": "Chromosome", "titleFontSize": 9.5, "labelFontSize": 8.5, "values": [14,28,69,95,131,155,190,221,251,270,291,322,343,368,392,416,435,454,470], "tickCount": 19, "labelExpr": "'' + indexof([14,28,69,95,131,155,190,221,251,270,291,322,343,368,392,416,435,454,470], datum.value)", "labelOverlap": false, "domain": false, "tickSize": 5, "labelPadding": 8, "titlePadding": 12}},
                "y": {"field": "y", "type": "quantitative", "scale": {"domain": [0, 7], "nice": false},
                  "axis": {"title": "−log₁₀(p)", "titleFontSize": 9.5, "labelFontSize": 8.5, "values": [0,1,2,3,4,5,6,7], "tickCount": 8, "labelOverlap": false, "tickSize": 7, "labelPadding": 4, "titlePadding": 18, "labelAngle": 0}},
                "color": {"field": "c", "type": "nominal", "legend": null,
                  "scale": {"domain": [0,1,2,3,4,5,6,7,8,9,10,11,12,13,14,15,16,17,18],
                    "range": ["#00008B","#CD8500","#00008B","#CD8500","#00008B","#CD8500","#00008B","#CD8500","#00008B","#CD8500","#00008B","#CD8500","#00008B","#CD8500","#00008B","#CD8500","#00008B","#CD8500","#00008B"]}}
              }
            },
            {
              "data": {"values": [{"threshold": 4.69}]},
              "mark": {"type": "rule", "color": "#E8928E", "strokeWidth": 1.6},
              "encoding": {"y": {"field": "threshold", "type": "quantitative"}}
            }
          ]
        },
        {
          "width": 191,
          "height": 177.8,
          "layer": [
            {
              "data": {"name": "qph"},
              "mark": {"type": "circle", "size": 9, "opacity": 1, "color": "#000"},
              "encoding": {
                "x": {"field": "e", "type": "quantitative", "scale": {"domain": [-0.14, 3.84], "nice": false, "zero": false},
                  "axis": {"title": "Expected  −log₁₀(p)", "titleFontSize": 9.5, "labelFontSize": 9, "values": [0,1,2,3], "tickCount": 4, "labelOverlap": false, "domain": false, "tickSize": 5, "labelPadding": 6, "titlePadding": 8}},
                "y": {"field": "o", "type": "quantitative", "scale": {"domain": [-0.23, 7.01], "nice": false, "zero": false},
                  "axis": {"title": "Observed  −log₁₀(p)", "titleFontSize": 9.5, "labelFontSize": 9, "values": [0,1,2,3,4,5,6], "tickCount": 7, "labelOverlap": false, "domain": false, "tickSize": 5, "labelPadding": 5, "titlePadding": 13, "labelAngle": -90, "labelAlign": "center", "labelBaseline": "bottom", "titleY": 98.5}}
              }
            },
            {
              "data": {"values": [{}]},
              "mark": {"type": "rule", "color": "#E8453F", "strokeWidth": 1},
              "encoding": {
                "x": {"datum": -0.14, "type": "quantitative"}, "y": {"datum": -0.14, "type": "quantitative"},
                "x2": {"datum": 3.84}, "y2": {"datum": 3.84}
              }
            },
            {
              "data": {"values": [{}]},
              "mark": {"type": "rect", "filled": false, "color": "#555", "strokeWidth": 1},
              "encoding": {
                "x": {"datum": -0.14, "type": "quantitative"}, "y": {"datum": -0.23, "type": "quantitative"},
                "x2": {"datum": 3.84}, "y2": {"datum": 6.23}
              }
            }
          ]
        }
      ]
    },
    {
      "title": {"text": "Seed Width", "fontSize": 21.5, "fontWeight": "bold", "color": "#000", "anchor": "start", "frame": "group", "dx": 192, "offset": -6.5},
      "bounds": "flush",
      "spacing": 43,
      "hconcat": [
        {
          "width": 497,
          "height": 180.3,
          "layer": [
            {
              "data": {"name": "sw"},
              "mark": {"type": "circle", "size": 21, "opacity": 1},
              "encoding": {
                "x": {"field": "x", "type": "quantitative", "scale": {"domain": [0, 497], "nice": false, "zero": false},
                  "axis": {"title": "Chromosome", "titleFontSize": 9.5, "labelFontSize": 8.5, "values": [14,28,69,95,131,155,190,221,251,270,291,322,343,368,392,416,435,454,470], "tickCount": 19, "labelExpr": "'' + indexof([14,28,69,95,131,155,190,221,251,270,291,322,343,368,392,416,435,454,470], datum.value)", "labelOverlap": false, "domain": false, "tickSize": 5, "labelPadding": 8, "titlePadding": 12}},
                "y": {"field": "y", "type": "quantitative", "scale": {"domain": [0, 7], "nice": false},
                  "axis": {"title": "−log₁₀(p)", "titleFontSize": 9.5, "labelFontSize": 8.5, "values": [0,1,2,3,4,5,6,7], "tickCount": 8, "labelOverlap": false, "tickSize": 7, "labelPadding": 4, "titlePadding": 18, "labelAngle": 0}},
                "color": {"field": "c", "type": "nominal", "legend": null,
                  "scale": {"domain": [0,1,2,3,4,5,6,7,8,9,10,11,12,13,14,15,16,17,18],
                    "range": ["#00008B","#CD8500","#00008B","#CD8500","#00008B","#CD8500","#00008B","#CD8500","#00008B","#CD8500","#00008B","#CD8500","#00008B","#CD8500","#00008B","#CD8500","#00008B","#CD8500","#00008B"]}}
              }
            },
            {
              "data": {"values": [{"threshold": 4.69}]},
              "mark": {"type": "rule", "color": "#E8928E", "strokeWidth": 1.6},
              "encoding": {"y": {"field": "threshold", "type": "quantitative"}}
            }
          ]
        },
        {
          "width": 190.6,
          "height": 179.3,
          "layer": [
            {
              "data": {"name": "qsw"},
              "mark": {"type": "circle", "size": 9, "opacity": 1, "color": "#000"},
              "encoding": {
                "x": {"field": "e", "type": "quantitative", "scale": {"domain": [-0.137, 3.823], "nice": false, "zero": false},
                  "axis": {"title": "Expected  −log₁₀(p)", "titleFontSize": 9.5, "labelFontSize": 9, "values": [0,1,2,3], "tickCount": 4, "labelOverlap": false, "domain": false, "tickSize": 5, "labelPadding": 6, "titlePadding": 8}},
                "y": {"field": "o", "type": "quantitative", "scale": {"domain": [-0.24, 7.42], "nice": false, "zero": false},
                  "axis": {"title": "Observed  −log₁₀(p)", "titleFontSize": 9.5, "labelFontSize": 9, "values": [0,1,2,3,4,5,6], "tickCount": 7, "labelOverlap": false, "domain": false, "tickSize": 5, "labelPadding": 5, "titlePadding": 13, "labelAngle": -90, "labelAlign": "center", "labelBaseline": "bottom", "titleY": 99.6}}
              }
            },
            {
              "data": {"values": [{}]},
              "mark": {"type": "rule", "color": "#E8453F", "strokeWidth": 1},
              "encoding": {
                "x": {"datum": -0.137, "type": "quantitative"}, "y": {"datum": -0.137, "type": "quantitative"},
                "x2": {"datum": 3.823}, "y2": {"datum": 3.823}
              }
            },
            {
              "data": {"values": [{}]},
              "mark": {"type": "rect", "filled": false, "color": "#555", "strokeWidth": 1},
              "encoding": {
                "x": {"datum": -0.137, "type": "quantitative"}, "y": {"datum": -0.24, "type": "quantitative"},
                "x2": {"datum": 3.823}, "y2": {"datum": 6.57}
              }
            }
          ]
        }
      ]
    }
  ]
}
